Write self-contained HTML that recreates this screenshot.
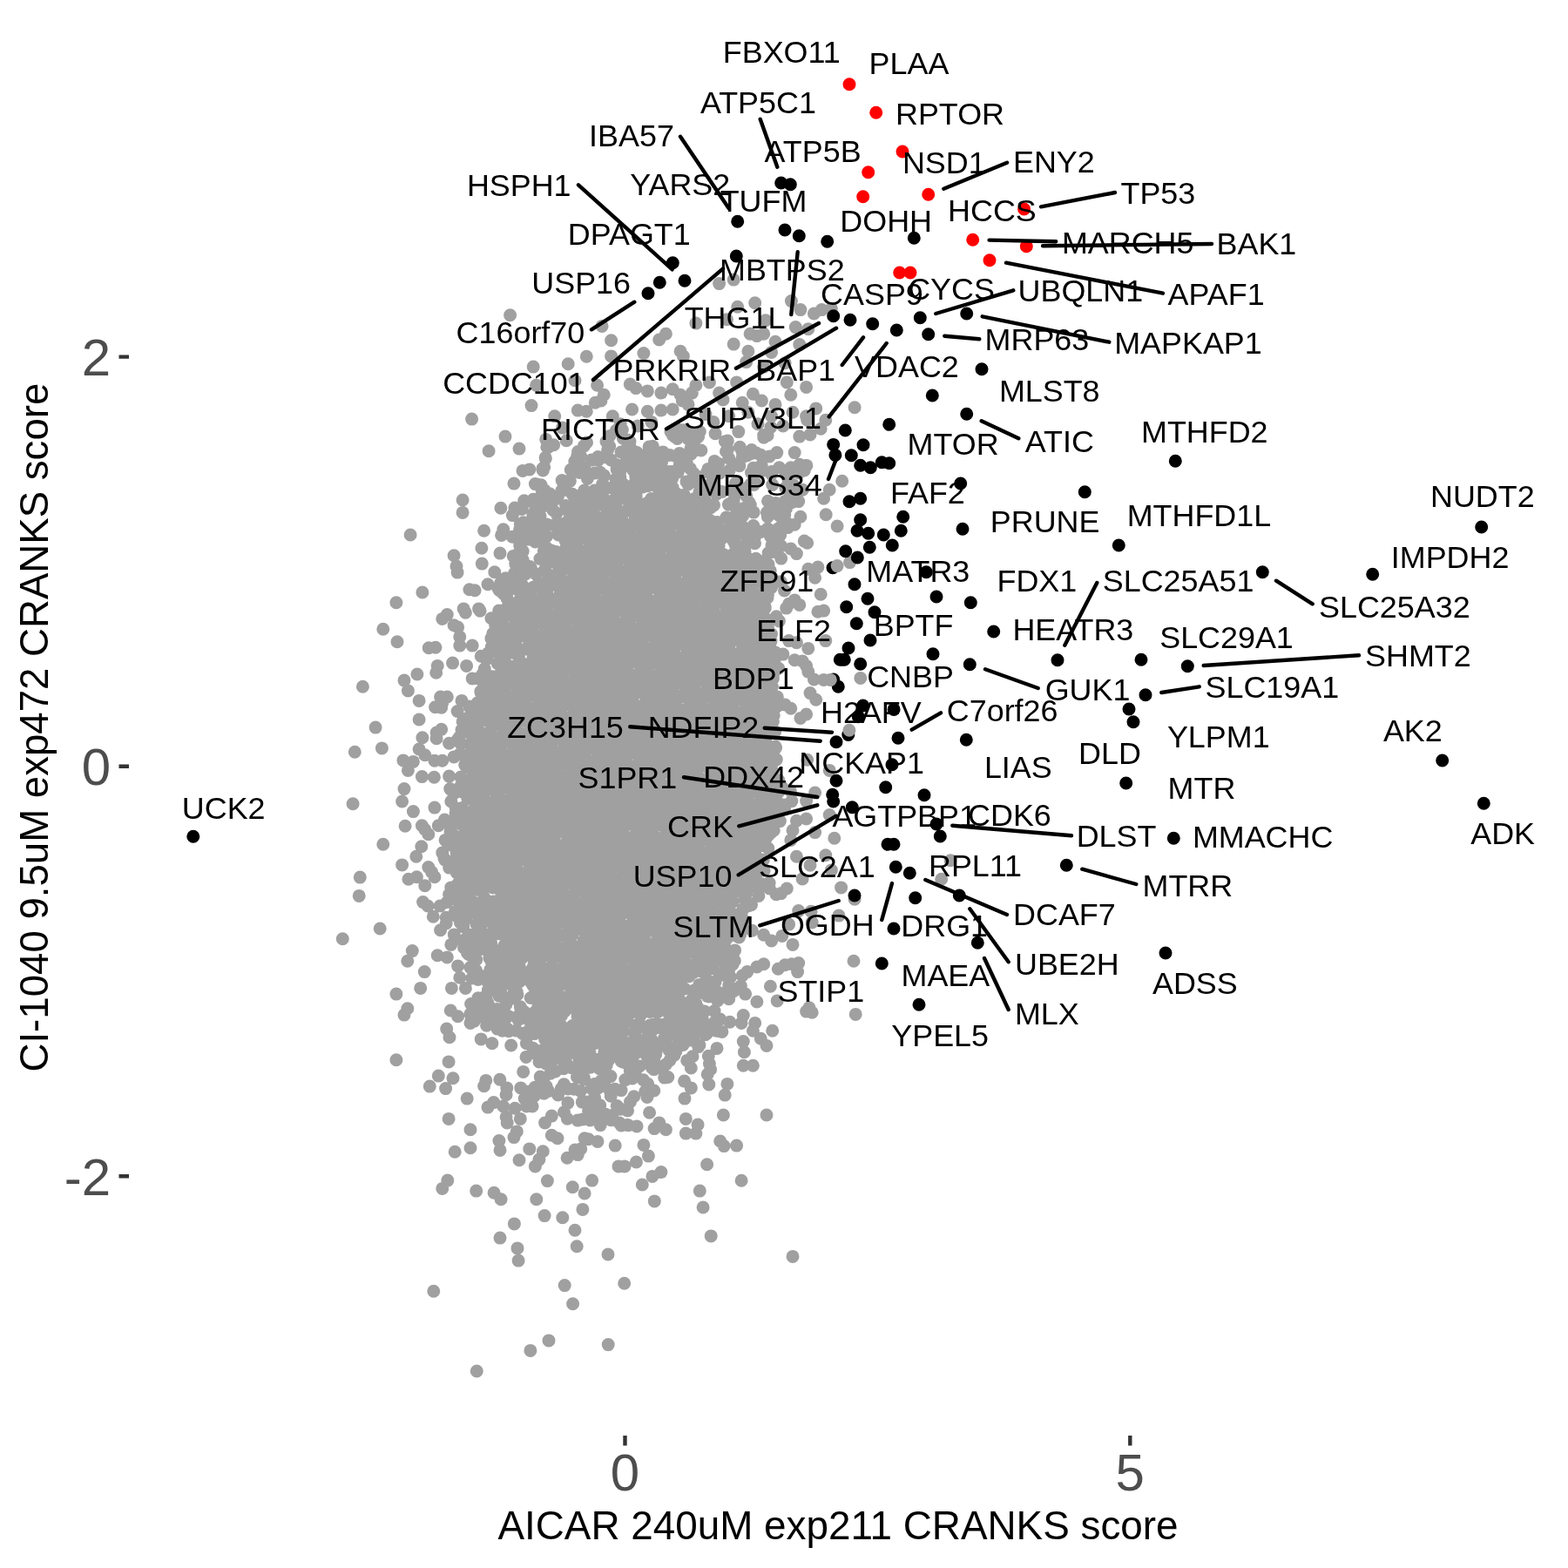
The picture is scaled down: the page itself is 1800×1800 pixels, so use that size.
<!DOCTYPE html>
<html lang="en"><head><meta charset="utf-8"><title>AICAR vs CI-1040 CRANKS score</title>
<style>
html,body{margin:0;padding:0;background:#fff;}
body{width:1800px;height:1800px;overflow:hidden;}
svg{display:block;}
text{font-family:"Liberation Sans",Arial,Helvetica,sans-serif;}
.l{font-size:35.9px;fill:#000;}
.a{font-size:60.0px;fill:#4D4D4D;}
.t{font-size:45.83px;fill:#000;}
</style></head><body>
<svg xmlns="http://www.w3.org/2000/svg" width="1800" height="1800" viewBox="0 0 1800 1800">
<rect width="1800" height="1800" fill="#fff"/>
<path fill="none" stroke="#A0A0A0" stroke-width="15" stroke-linecap="round" d="M541.6 481.1h0M580 501.1h0M561.1 517.8h0M596 515.1h0M600 540.4h0M607.8 538.9h0M590 555.1h0M614.4 555.6h0M621.1 556.7h0M627.8 513.3h0M623.3 540h0M531.1 574h0M531.1 588.4h0M574.9 583.3h0M591.1 585.6h0M598.9 584.4h0M612.2 573.3h0M622.2 573.3h0M611.8 592.7h0M471.1 614h0M555.6 609.3h0M577.8 607.8h0M575.6 614.4h0M552.9 629.3h0M574 635.1h0M521.1 637.8h0M524 650h0M525.1 657.1h0M553.3 647.1h0M567.8 656.7h0M560 670.7h0M538.9 676.7h0M545.1 677.8h0M573.3 677.8h0M484.9 680h0M454.9 691.8h0M532.2 698.9h0M534.4 703.3h0M549.6 698.9h0M513.3 705.6h0M507.8 710.4h0M521.1 717.8h0M525.6 720h0M439.8 722.2h0M456 736.7h0M527.8 731.1h0M527.8 741.1h0M542.2 741.1h0M492.2 743.8h0M500 743.3h0M552.2 753.3h0M519.6 761.1h0M535.6 764.4h0M502.2 764.4h0M500.7 772.2h0M478.9 774h0M542.2 778.9h0M464 781.1h0M468.4 792.9h0M416.4 788.2h0M481.1 804.4h0M505.6 800h0M513.3 800h0M507.8 806.7h0M499.6 811.8h0M506.7 812.2h0M530 804.4h0M538.9 811.1h0M552.2 795.6h0M481.1 826h0M431.1 835.1h0M531.1 828.2h0M530 837.8h0M506.7 837.3h0M501.1 841.1h0M501.1 847.8h0M484.9 846.7h0M515.6 853.3h0M525.6 848.9h0M438.4 858.9h0M407.3 863.3h0M481.1 860h0M487.8 866.7h0M462.9 872.9h0M474.4 874.4h0M498.9 873.3h0M507.8 873.3h0M521.1 868.9h0M468.4 884.4h0M484.4 891.6h0M498.4 892.2h0M515.6 891.1h0M464 905.6h0M405.1 922.7h0M461.6 920h0M474.4 931.6h0M498.9 927.1h0M516.7 905.6h0M525.6 907.8h0M517.8 920h0M523.3 927.8h0M465.1 948.2h0M484.4 947.8h0M487.8 952.2h0M491.8 957.8h0M503.3 947.8h0M510.4 941.1h0M531.1 943.3h0M439.8 969.3h0M483.8 971.8h0M477.8 983.3h0M511.1 964.4h0M517.8 962.2h0M514.4 970h0M507.8 978.9h0M510 985.6h0M461.6 992.9h0M491.8 995.6h0M495.6 1001.1h0M498.9 1006.7h0M413.3 1007.1h0M468.9 1009.3h0M478.4 1006.7h0M487.8 1016.7h0M412.2 1028.4h0M517.8 1018.9h0M515.6 1026.7h0M485.6 1035.6h0M491.1 1040h0M505.1 1040h0M513.3 1035.6h0M522.2 1047.1h0M497.3 1052.2h0M512.2 1053.3h0M512.2 1060h0M505.6 1067.8h0M436.2 1066h0M393.3 1077.8h0M523.3 1077.8h0M517.8 1084.4h0M538.9 1073.3h0M553.3 1072.2h0M473.3 1091.6h0M467.8 1103.3h0M502.2 1096.7h0M513.3 1098.9h0M525.6 1108.9h0M487.3 1115.6h0M527.8 1122.2h0M482.7 1134.4h0M518.4 1134.4h0M534.4 1134.4h0M454.9 1141.1h0M467.8 1157.8h0M464 1165.1h0M517.3 1160h0M525.6 1166.7h0M541.1 1167.8h0M550 1166.7h0M548.9 1151.1h0M540 1174.4h0M512.7 1181.1h0M516 1190.7h0M454.9 1216.7h0M515.1 1218.9h0M503.3 1235.1h0M520 1237.8h0M493.3 1247.1h0M511.6 1249.6h0M536.2 1261.1h0M515.1 1284.4h0M522.2 1322.2h0M513.8 1355.1h0M507.8 1364.4h0M497.8 1482.2h0M630 1538.9h0M608.9 1550.4h0M698.2 1543.6h0M547.3 1574h0M926.7 872.2h0M952.2 884.4h0M935.6 910h0M925.6 919.6h0M908.9 919.6h0M952.2 935.6h0M925.6 940h0M914.4 942.2h0M957.8 962.2h0M935.6 955.6h0M910 953.3h0M907.8 964.4h0M947.8 981.8h0M914.4 983.3h0M930 993.3h0M954.4 998.9h0M921.1 1008.9h0M1091.1 987.8h0M1080.7 1009.3h0M965.6 1018.9h0M981.1 1032.2h0M903.3 1020h0M896.7 1025.6h0M883.3 1020h0M891.1 1026.7h0M916.7 1045.6h0M931.1 1046.2h0M962.9 1051.1h0M905.6 1061.1h0M932.2 1058.9h0M876.7 1073.3h0M885.6 1080h0M897.8 1074.4h0M910 1084.4h0M980 1103.3h0M916.7 1105.6h0M908.9 1106.7h0M901.1 1107.8h0M893.3 1112.2h0M876.7 1106.7h0M868.9 1110h0M857.8 1115.6h0M852.2 1120h0M915.6 1115.6h0M884.4 1132.2h0M855.6 1141.1h0M836.7 1131.1h0M842.2 1137.8h0M868.9 1150h0M892.2 1148.9h0M836.7 1146.7h0M925.6 1161.1h0M932.2 1162.2h0M928.9 1156.7h0M982.2 1164.4h0M853.3 1165.6h0M826.7 1170h0M981.1 467.8h0M926.7 482.2h0M942.2 492.2h0M876.7 499.6h0M917.8 501.1h0M930 498.9h0M873.3 522.2h0M891.8 519.6h0M912.2 519.6h0M907.8 536.7h0M917.8 533.3h0M923.3 540h0M885.6 544.4h0M903.3 544.4h0M966.7 552.2h0M952.2 562.2h0M945.6 572.2h0M901.1 575.6h0M908.9 576.7h0M916.7 575.6h0M903.3 581.1h0M948.2 590.7h0M918.9 593.3h0M912.2 602.2h0M904.4 605.6h0M961.1 604h0M923.3 621.1h0M926.7 623.3h0M896.7 626.7h0M907.8 630h0M914.4 635.6h0M896.7 641.1h0M975.6 645.6h0M927.8 653.3h0M938.9 651.1h0M935.6 663.3h0M942.2 682.2h0M912.2 688.9h0M917.8 694.4h0M905.6 693.3h0M938.9 702.2h0M945.6 701.1h0M947.8 735.6h0M927.8 744.4h0M914.4 737.8h0M905.6 735.6h0M890 748.9h0M898.9 751.1h0M912.2 757.8h0M921.1 758.9h0M925.6 764.4h0M927.8 771.1h0M934.4 780h0M930 795.6h0M936.7 803.3h0M892.2 806.7h0M901.1 808.9h0M907.8 813.3h0M925.6 820h0M918.9 824.4h0M585.6 361.8h0M691.1 374.4h0M701.6 390.7h0M825.6 325.6h0M842.2 321.1h0M846.7 352.2h0M866.7 347.8h0M908.4 345.6h0M918.9 355.6h0M934.4 360h0M943.3 355.6h0M954.4 354.4h0M798.9 371.1h0M834.4 366.7h0M878.9 367.8h0M913.3 375.6h0M927.8 377.8h0M756.7 390h0M764.4 383.3h0M861.1 383.3h0M868.9 385.6h0M876.7 383.3h0M842.2 395.1h0M858.9 403.3h0M890 392.2h0M885.6 404.4h0M917.8 395.6h0M673.3 409.3h0M701.6 408.9h0M738.9 405.6h0M781.1 403.3h0M784.4 408.9h0M856.7 415.6h0M612.2 421.1h0M652.2 417.8h0M901.1 416.7h0M876.7 421.1h0M615.6 442.2h0M660 436.7h0M685.6 442.2h0M723.3 441.1h0M730 445.6h0M743.3 448.9h0M758.9 451.1h0M772.2 446.7h0M781.1 453.3h0M798.9 442.2h0M814.4 438.9h0M794.4 451.1h0M825.6 451.1h0M845.6 438.9h0M864.4 452.2h0M903.3 438.9h0M907.8 453.3h0M925.6 444.4h0M693.3 453.3h0M610 465.6h0M683.3 462.2h0M690 460h0M663.3 471.1h0M673.3 472.2h0M725.6 470h0M743.3 472.2h0M758.9 471.1h0M772.2 470h0M783.3 460h0M790 464.4h0M830 458.9h0M712.2 486.7h0M626.7 504.4h0M770 495.6h0M778.9 493.3h0M792.2 497.8h0M803.3 495.6h0M821.1 497.8h0M847.8 495.6h0M834.4 507.8h0M636.7 477.8h0M645.6 491.1h0M703.3 477.8h0M714.4 493.3h0M732.2 488.9h0M747.8 484.4h0M810 475.6h0M818.9 484.4h0M836.7 477.8h0M858.9 473.3h0M870 486.7h0M885.6 477.8h0M898.9 488.9h0M910 473.3h0M925.6 477.8h0M936.7 468.9h0M947.8 482.2h0M890 464.4h0M874.4 460h0M852.2 462.2h0M544.4 1172.2h0M576.7 1183.3h0M571.1 1181.1h0M837.8 1173.3h0M851.1 1174.4h0M866.7 1174.4h0M864.4 1183.3h0M822.2 1183.3h0M828.9 1184.4h0M886.7 1183.3h0M552.2 1192.9h0M564.9 1197.8h0M586.7 1200h0M604.4 1197.8h0M853.3 1195.6h0M873.3 1192.2h0M880 1200.4h0M854.4 1207.8h0M813.3 1212.2h0M600.7 1230.4h0M793.3 1226h0M814.4 1221.1h0M815.6 1227.8h0M812.2 1233.3h0M853.3 1223.3h0M864.4 1223.3h0M557.8 1240.4h0M555.6 1246.7h0M573.8 1239.3h0M581.8 1248.9h0M581.1 1256.7h0M597.8 1248.9h0M606.7 1253.3h0M602.2 1261.1h0M560 1271.1h0M566.7 1265.6h0M577.8 1270h0M591.1 1272.2h0M604.4 1270h0M611.1 1270h0M581.1 1282.2h0M582.2 1288.9h0M597.3 1284.4h0M625.6 1288.9h0M633.3 1281.1h0M540 1296.7h0M593.3 1298.9h0M590 1305.6h0M633.3 1303.3h0M640 1306.7h0M785.6 1241.1h0M793.3 1248.9h0M786 1261.1h0M813.8 1244.9h0M834.9 1244.4h0M832.2 1257.1h0M745.6 1277.3h0M787.3 1284.4h0M801.1 1291.1h0M787.3 1301.1h0M798.9 1301.1h0M830.4 1280h0M880 1280h0M751.1 1295.6h0M756.7 1288.9h0M764.4 1296.7h0M738.9 1314.4h0M744.4 1327.1h0M826.7 1310h0M831.1 1315.6h0M845.6 1315.1h0M572.9 1309.6h0M574 1320.4h0M540 1317.8h0M607.8 1318.9h0M623.3 1321.8h0M618.9 1331.1h0M614.4 1338.9h0M596 1331.8h0M651.1 1329.3h0M660 1320h0M666.7 1318.9h0M663.3 1325.6h0M671.1 1306.7h0M675.6 1307.8h0M686 1310.4h0M706.2 1315.1h0M710 1338.9h0M717.1 1338.9h0M730.4 1334h0M811.6 1336.7h0M758.9 1345.6h0M748.9 1350.4h0M737.3 1360h0M628.4 1355.6h0M657.3 1362.7h0M679.6 1355.1h0M671.1 1370h0M546.7 1367.1h0M567.1 1369.3h0M575.1 1376.7h0M615.8 1376.7h0M751.3 1378.9h0M803.3 1367.1h0M851.1 1355.3h0M668.9 1388.4h0M625.1 1395.6h0M645.8 1397.8h0M590.4 1404.9h0M660 1412.2h0M807.1 1386h0M574 1421.1h0M816.2 1418.9h0M594 1432.9h0M662.2 1430.7h0M595.1 1447.1h0M698 1440h0M910 1442.4h0M648.2 1475.6h0M716.7 1473.3h0M657.6 1496.7h0M702.9 697.6h0M800.3 889.1h0M652.5 997.2h0M695.3 611.4h0M656 908.7h0M714.2 856.4h0M658.1 1129.8h0M745 959.8h0M743.6 947.8h0M720.5 986.6h0M730.8 998h0M643 681.7h0M735.7 908.8h0M857.6 769.3h0M674 800.5h0M754.7 979.6h0M886.5 933.8h0M698.7 751.9h0M750.6 980.3h0M819.9 889.5h0M651.7 963.6h0M671.6 869.8h0M842.3 847.9h0M886.2 952.6h0M692.2 900.6h0M632.6 938.1h0M759 678.3h0M543.3 847.6h0M642.3 814.5h0M877.4 681.2h0M843.6 1090.9h0M623.7 1015.2h0M599.7 717.7h0M792 961.9h0M739.4 945.6h0M704.5 750.8h0M762.6 997.1h0M741.6 847.6h0M716.3 1021.4h0M722.1 891.1h0M720.2 815.3h0M638.1 912.4h0M729.9 657h0M826.8 817.9h0M710.4 658.6h0M640.8 1072.1h0M783.8 730.1h0M652 892.4h0M734.3 877.6h0M637.6 958.1h0M661.6 854.6h0M711.2 785.8h0M863.2 859.8h0M733.2 723.5h0M762.5 877.9h0M701.9 882.9h0M786.7 702.4h0M858.4 754.4h0M752.1 946.4h0M637.7 934.7h0M646.6 924.1h0M600.7 599.7h0M653 851.5h0M742.1 912.4h0M778.3 931.2h0M712.6 842.6h0M686.5 942.9h0M805.7 1000h0M798.2 662.3h0M863.3 937h0M712.8 921.7h0M718.9 976.1h0M690.2 1020.6h0M725 1206.8h0M641.2 650h0M766.5 854.1h0M808.4 1057.5h0M764.5 909.4h0M733.1 783.7h0M792.2 980.5h0M715.9 827.3h0M621.7 890.4h0M670.6 903.4h0M624.2 1126.9h0M779.9 755.7h0M687.3 1064.4h0M717.1 838.3h0M597.4 1084.2h0M765.9 671.9h0M906.8 566.9h0M660.8 849.2h0M717.8 1043.3h0M555.3 916.5h0M840.4 724h0M782.9 1059.9h0M801.1 1025.4h0M683.9 881.7h0M661.4 826.3h0M641.9 1035.6h0M611.3 856.8h0M681.9 822.6h0M721.2 1021.9h0M738.4 780.2h0M634.5 1064.2h0M810.3 894.5h0M672.3 841.3h0M786.1 815h0M720.3 682.8h0M686.8 1216.3h0M773.6 892.4h0M671.6 1145.2h0M712.8 853.3h0M578.2 1030h0M784.9 1151.7h0M627.9 718h0M597.4 1058.7h0M853.1 583.8h0M561 920.9h0M541.9 877.1h0M654.7 900.9h0M828.7 841h0M642.2 953.2h0M824.5 876.7h0M814.5 894.2h0M749.5 806.5h0M739 936.5h0M811.1 910.1h0M554.6 893.4h0M632.8 873h0M739.7 1072.8h0M568.3 919.1h0M695.2 905.6h0M772.6 834.9h0M624.1 1062h0M609.9 896.4h0M793.3 772.8h0M826 970.9h0M671.2 955.6h0M690.8 872.1h0M778.9 1056.4h0M696.9 792.9h0M717.9 921h0M669.4 805.4h0M652.2 1108h0M737.7 1055.1h0M608.2 838.9h0M548 881.2h0M842.5 814.5h0M622.5 998.8h0M650.8 755.7h0M846.9 960.9h0M752.6 915.1h0M767.9 1051.1h0M759.2 1128.1h0M747.7 816.3h0M825.7 847.6h0M699.8 583.6h0M820.4 764.9h0M713.3 655.5h0M870.1 883.5h0M745.9 692.3h0M765.2 841.5h0M822.6 999.3h0M641.5 1015.5h0M697.4 873.4h0M575.8 1028.5h0M630.5 645.4h0M763.7 587.5h0M640 976.5h0M622.7 909.8h0M859.8 793.8h0M745.4 968.9h0M794 1025.6h0M712.2 1013.8h0M753.9 844.6h0M816.1 966.4h0M636.1 1094.3h0M734.4 938.4h0M778.3 1016.8h0M735.2 1146.6h0M707.1 753.4h0M675.1 765.7h0M614.7 1103.1h0M657.9 928h0M689.9 1058.1h0M749.7 860.3h0M785.8 616.4h0M743.4 905.8h0M838.9 786h0M878.4 765.2h0M792.6 921.7h0M770.6 779.6h0M777.1 637h0M711.2 761.8h0M857.4 523h0M738.1 819h0M791.7 867.5h0M783.1 913.6h0M678.6 647.5h0M768.9 1033.9h0M741.3 805.8h0M831.2 875.9h0M747.1 789.7h0M721.2 1000.6h0M809 1057.6h0M747.3 1087.7h0M763.4 872h0M586 764.9h0M699.5 616.7h0M636.3 964.7h0M527.8 865.7h0M788.3 872.8h0M605.3 888.5h0M709.1 692.1h0M579 671.5h0M806.2 963.9h0M815.5 1008.9h0M858.4 879.1h0M808.9 762.7h0M752.5 869.1h0M654 704.8h0M728.1 1036.6h0M675.2 752.9h0M806.5 699.6h0M664.7 1100.6h0M613.8 900.4h0M741.8 968.8h0M802.9 610.4h0M709.8 678.9h0M585.4 1039.2h0M754.8 862.2h0M547.9 965.6h0M766.4 1014.4h0M764.2 986.7h0M768.1 908.9h0M596.5 1011.9h0M587.2 904.2h0M695.4 709.4h0M625.2 810h0M806.1 950.1h0M836.5 704.5h0M864.6 816.6h0M566.5 939.1h0M580.6 918.9h0M848.8 534.8h0M631.9 1039.8h0M780.4 989.9h0M802.7 874.1h0M798.8 881.1h0M650.4 896.8h0M764.4 859.4h0M674.9 832.2h0M646.1 861.1h0M792.1 843.1h0M811.7 1030.7h0M707.9 912.5h0M795.4 905.2h0M774.4 950.9h0M792.5 899.5h0M624.7 840h0M632.3 895.8h0M571.3 761.8h0M727.9 960.2h0M721.9 775.1h0M658.2 933.2h0M754.3 928.7h0M818.9 855.5h0M792.3 818h0M635.4 975.4h0M654.7 1028.8h0M684.6 996.1h0M780.4 886.8h0M607.6 786.2h0M822.4 883.9h0M744.6 950.1h0M663.2 1286.1h0M679.4 916.7h0M678.3 1106.5h0M681.2 754.1h0M701.9 1038.3h0M737.7 978.6h0M716.4 693.7h0M758.4 1052.5h0M824.4 909.1h0M739 723.8h0M674.8 883.8h0M657.2 1177.6h0M682.1 984.2h0M622.5 1157h0M790.4 664.3h0M711.8 848h0M763.7 936.4h0M739.1 865.7h0M659.9 1034.4h0M787.9 1051h0M731.7 810.4h0M641.7 1183.2h0M731.9 1082.8h0M688 953.5h0M581.9 969h0M714.4 815.8h0M785.1 928.8h0M675 732.8h0M717.5 1043.1h0M695.1 796.2h0M860.2 667.9h0M837.6 766.2h0M812.1 621.6h0M698.3 912.8h0M769.6 834.9h0M764.5 914.6h0M832.1 802.7h0M610.5 1174.5h0M709.4 910.9h0M636.8 1056.1h0M601.2 1017.7h0M821.1 1033.9h0M640.2 886h0M608.6 688.5h0M769.4 822.6h0M652.3 668.6h0M694.3 987.6h0M847.6 884h0M770.3 1082.1h0M628.9 887.9h0M561.9 1080.6h0M753.3 991.6h0M592.1 919h0M836.5 1115.2h0M789 743.1h0M658.5 799h0M848.1 817.8h0M579.6 797.5h0M808 781.6h0M728.1 726.5h0M650.7 843.7h0M827.4 868.8h0M715.5 951h0M696.7 1065.6h0M623.2 1166.4h0M767.2 923.9h0M819.5 992.3h0M718.6 715.2h0M734.2 542.3h0M794.8 931.6h0M665.2 953.5h0M711.2 1213.1h0M766 989.2h0M692.9 1121.4h0M643.9 1001.3h0M793.8 996.8h0M713.7 815.5h0M724.5 1131.5h0M619.8 1136.6h0M784.5 958.2h0M745.4 775h0M647.5 875.1h0M609 744.8h0M692.6 987.5h0M703.5 748h0M713.7 862.3h0M651.3 1284.3h0M783.8 1083.6h0M797.7 973h0M761.5 720.7h0M589.5 868h0M760.3 643.1h0M762.6 846.3h0M770.7 815.1h0M556.5 971.1h0M862.5 542.6h0M705 992.6h0M658.5 766h0M752.4 859h0M796.7 1029.9h0M626.9 785.5h0M711.9 777.9h0M773 616.6h0M663.9 832.8h0M796.2 949.3h0M776.7 1040.9h0M771.2 1172.1h0M644 923.8h0M777.4 998h0M883.8 741.8h0M623.2 886.1h0M750.3 944.9h0M740.5 1049.5h0M857.4 720.3h0M660.1 749.1h0M556.7 892.8h0M710.1 908.3h0M751.4 786.4h0M762.5 626h0M798.9 844.2h0M597.4 1169.2h0M679 581.7h0M744.2 1059.8h0M621 891.3h0M714.7 1085.2h0M733.2 598.6h0M684 884.4h0M746.1 848h0M824.8 761.7h0M580.1 1001.5h0M776 997.7h0M725.8 932.2h0M756.8 996.3h0M693.8 759.2h0M679.1 797.3h0M758.8 915.2h0M578.2 808.9h0M860.2 690.7h0M578.4 1123.8h0M751.5 1036.2h0M703.9 900h0M694.1 702.2h0M630.7 1119.6h0M639.1 999.7h0M744 1000.6h0M819.8 896.4h0M726.8 822.2h0M779 717h0M646.5 903.4h0M684.9 777.2h0M692.8 884.5h0M566.3 790.9h0M673.7 1185h0M780.7 875.8h0M648.5 1032.4h0M655.6 785.8h0M604.2 879.2h0M630.8 862.3h0M713.5 724.1h0M835.4 879.7h0M757.9 834h0M727 697.8h0M666 806h0M728.4 838.5h0M685.8 908.8h0M701.6 592.3h0M715.3 849.3h0M547.6 900.2h0M714.2 955.6h0M651.2 974.3h0M831.2 988.7h0M753.8 897.6h0M818.3 781.1h0M745.8 869.8h0M630.7 867h0M688 825h0M744 756.4h0M679.1 836.9h0M815.6 681.3h0M713.2 724.5h0M793.5 932.4h0M793 602h0M648.3 988.4h0M673 1067.5h0M684.1 920.6h0M673 782.2h0M622.2 1184.9h0M556.5 1038.9h0M676.1 1026.1h0M639.1 761.1h0M823.5 562.8h0M662.6 955.9h0M586.2 1062.9h0M740.8 723h0M782.8 977.4h0M757.4 723.4h0M583.6 765.6h0M816.3 1108.6h0M585.4 1002.3h0M747.7 1024.9h0M614.8 811.8h0M747.2 1103.1h0M712.6 1147.8h0M711.7 966.6h0M808.4 1014.3h0M712.1 883.9h0M799 795.8h0M728.5 913h0M744.2 955.4h0M708.9 796.3h0M627.9 978.6h0M660.2 967.8h0M756.9 788h0M768.6 794.1h0M691.6 789.4h0M645.4 1006.6h0M815.6 926.7h0M777.3 1029.2h0M646.7 928.6h0M789 999.1h0M555.3 1047.1h0M704.1 828.7h0M782.8 834.9h0M760.4 751.7h0M663.7 857.3h0M679.6 981.8h0M820.7 694.6h0M841 962.1h0M768.1 847.8h0M615.7 936.1h0M749.5 784.2h0M703 805.1h0M790.5 702.1h0M668.1 851.4h0M682.5 881.7h0M740.8 971.9h0M885.8 890.1h0M747.8 879.7h0M792.2 1091h0M693 740.8h0M767.3 880.6h0M765.4 779.8h0M794 1148h0M722.5 1213.5h0M775.1 1183.6h0M730.7 917.2h0M722.2 878.2h0M765.9 825.3h0M842.3 860.9h0M837.8 651.8h0M679.1 766.5h0M749.9 791.5h0M799.7 750.9h0M746.6 887.3h0M717.3 740h0M677.3 979.6h0M739.2 887.3h0M653 878h0M624.6 727.9h0M710.6 675.9h0M790.1 905.3h0M784.9 844.3h0M772.8 1032.3h0M709.4 912.1h0M794.6 921.2h0M608 992.7h0M752.8 739h0M660.5 751.3h0M703.5 1110.4h0M663.3 1018h0M571.9 1097h0M723 506.8h0M662.3 822.5h0M771.4 954.1h0M822.1 788.3h0M797.8 860.1h0M836.5 783h0M691.3 1003.6h0M735.8 1112.1h0M699 1016.9h0M727.4 700h0M537.2 897.6h0M557.1 846.4h0M689.6 1005h0M648.4 823.4h0M791.5 903h0M723 929.7h0M707.3 716.8h0M670.8 897h0M577 1112.6h0M783.7 766.7h0M729.4 1026.6h0M686.2 826.3h0M682.9 1045.2h0M740.7 923.1h0M617.9 1146.4h0M803.7 923.5h0M743.9 834h0M726.4 960.7h0M655.7 910.7h0M732.9 1109.1h0M679.9 588.4h0M744.3 753.6h0M669.4 898.1h0M688.7 807.5h0M723 793.3h0M735.8 1117h0M574.6 669.2h0M824.1 889.6h0M591.3 843.2h0M597.5 781.1h0M718.9 926.7h0M773.5 840.8h0M644.5 794h0M662.6 989.4h0M598.1 986.5h0M755.1 1141h0M720.5 887.7h0M635.5 644.1h0M734.9 883.3h0M665.5 815.4h0M802.9 565h0M782.2 897.8h0M734.6 669.3h0M731.7 825.9h0M672.2 668.5h0M781 693.1h0M881.7 913.5h0M564.4 872.5h0M750.9 1127.4h0M758.3 767.1h0M798.9 711.8h0M765.8 742.9h0M705.3 916.1h0M600.4 1007.5h0M629.9 945.3h0M737.2 1015h0M747 1066.5h0M638.2 1084.7h0M731.5 960.5h0M770.8 879.8h0M727.6 752h0M762.8 809.1h0M652.2 1074.2h0M619.5 888.1h0M891 935.6h0M673.2 905.4h0M669.8 780.4h0M775.4 905.2h0M854.6 1024.4h0M674.8 1008.1h0M711.8 944.2h0M633.6 1144.4h0M803.8 917.7h0M771 898.7h0M851.8 954.9h0M792.6 736.3h0M798.3 999.8h0M867.5 903h0M838.1 890.7h0M648.8 809.3h0M682.5 1006.7h0M610.8 983.3h0M809.2 1115.9h0M649.9 1033.5h0M699.3 828.9h0M742 671.3h0M578.7 955.3h0M757.2 794.7h0M646.7 1115.8h0M768.5 986.4h0M626 1018.9h0M767.6 1059.5h0M563 1093.5h0M834.2 789.1h0M876.2 822.3h0M735.6 1025h0M730.1 570h0M686.6 768.5h0M681.4 815.5h0M833 793.9h0M762.3 854.3h0M776.5 846.2h0M713.1 1043.5h0M596.3 1096.6h0M687.2 1059.1h0M623.7 1123.4h0M727.1 1029.7h0M742.7 718.6h0M683.4 1040.5h0M797.9 993h0M764 905.7h0M727.5 845.5h0M729.6 1133h0M648.3 906.4h0M727.4 905.9h0M803.2 809.5h0M786.9 771.7h0M607 909.4h0M686 862.9h0M700.2 1001.8h0M688.3 764.3h0M652.8 674.2h0M691.9 765.8h0M680.7 778.5h0M795.5 635.2h0M833.3 922.3h0M621.1 619.4h0M747.7 823.7h0M638.3 790.1h0M604.6 932.8h0M662.9 932.1h0M666.1 717.7h0M689.5 603.4h0M777.1 1068.8h0M726.3 1007.9h0M576.7 984.9h0M707.4 1124.7h0M711.9 684h0M711.8 596h0M811.9 789.4h0M811.6 782.1h0M883.2 781.8h0M756 732.2h0M788.7 742.6h0M689.7 1056.7h0M769.3 1188.6h0M642.6 1023.7h0M667.2 698.7h0M882.2 791.7h0M650.2 792h0M801.7 501.1h0M597.7 1099.9h0M711.2 860.9h0M763.7 719.5h0M779.5 1005.1h0M583.5 1128.6h0M686.1 911.8h0M627.2 750.5h0M817.6 681.2h0M700 772.6h0M773.9 1086h0M749.1 890.2h0M670 953.6h0M596.6 841.2h0M856.2 807.7h0M733.7 958.5h0M710.8 742.7h0M784.2 647.2h0M645.4 779.4h0M676.5 1204.6h0M770.2 956.8h0M837.9 849.9h0M829.7 792.4h0M650.2 873.3h0M657.6 790.5h0M727.5 779.6h0M670.4 724.4h0M581.5 824.9h0M612.9 798.4h0M672.7 759.8h0M835.4 515.8h0M641.6 613.1h0M795 913.5h0M698.9 918.1h0M614 1074.4h0M768 858.6h0M677.6 949h0M632 811.1h0M712.5 572h0M831.9 846h0M849.5 841.4h0M858.9 654.5h0M698.8 756.8h0M666.5 1144.5h0M817.4 887.2h0M736.6 998h0M640.1 785.7h0M659.2 825.6h0M809.9 1002.9h0M761.3 971.5h0M748.3 744.5h0M844.1 752.1h0M557.3 919.2h0M701.4 980.8h0M702.5 560.1h0M645 1006.5h0M782.8 1098.3h0M550.1 1159h0M730.9 946.9h0M719.8 1028.2h0M745.5 1046.5h0M724.8 802.7h0M700.4 891.3h0M803.8 643.6h0M600.2 632.7h0M668.9 1285h0M730 755.6h0M741.6 922h0M688.1 933h0M643.3 776.4h0M669.9 990.5h0M680.4 808.4h0M688 945.6h0M629.9 663.6h0M659.6 1093h0M637.9 1162.4h0M690.5 759.6h0M626.8 839.3h0M796.2 982.8h0M709.1 902.7h0M607.3 885.3h0M790.8 931.2h0M577.3 1014.9h0M750.1 831.6h0M757.1 895.4h0M769.5 921.1h0M708.3 993.5h0M685.6 921.6h0M724.4 946.1h0M733.2 989.6h0M756.8 634.2h0M739.7 938.3h0M630.7 820.6h0M607.8 1010h0M627.8 866.4h0M675.3 780h0M687 710.4h0M831.5 1119.4h0M687.7 1007h0M833.9 665.6h0M689.8 1016.3h0M739.8 1034.6h0M804.8 994.5h0M688 950.4h0M746.4 757.6h0M678.9 698.6h0M745.6 799.8h0M730.2 861.5h0M642.3 868.2h0M665.5 837.8h0M832.7 894.1h0M793.7 989h0M769.4 958.7h0M650 919h0M836.3 1024.6h0M810.4 952.4h0M851.2 747.3h0M752.6 808.5h0M746.2 864h0M727.5 792.1h0M623.4 952.1h0M579.2 1061.2h0M623.5 1047.4h0M808.1 1140.1h0M653.4 982.5h0M643.6 889.4h0M716.2 879.1h0M616.3 799.4h0M583.8 1021.6h0M780.1 682.5h0M696 1196.3h0M717.1 618.5h0M565.3 971.1h0M709.2 918.8h0M666.9 762.5h0M698.5 925.4h0M741 1063.2h0M796.9 1062.9h0M651.7 632.9h0M697.6 804.9h0M847.2 671.2h0M796.4 649.6h0M802.6 661.3h0M790.8 496.2h0M783.7 639.7h0M807.7 633.7h0M651 947.2h0M692 742.2h0M749.6 857.7h0M917.1 543h0M727.1 627.7h0M848.6 961.4h0M791.4 954.5h0M686.4 697.9h0M795.1 1028.5h0M712.6 879h0M762.1 938.8h0M761.3 755.3h0M761.1 813.9h0M657.8 999.2h0M804 633.3h0M550.9 939.4h0M558.7 858.8h0M596 776.8h0M787.9 820.4h0M750.1 898h0M681.2 843.1h0M624.4 899.8h0M798.9 1152h0M682.8 682.9h0M737.2 744.8h0M687.5 995.2h0M715.5 927.9h0M658 845.5h0M816.1 766.4h0M762.7 1237.1h0M707.2 881.9h0M585.3 842h0M816 947.3h0M689 953.6h0M652.2 974.5h0M745.1 727.5h0M663.1 1123.8h0M648.9 610.4h0M658 783h0M836.9 909.6h0M761.3 947.6h0M630.6 1163.4h0M836.4 856.7h0M695.2 603.9h0M678.1 909.4h0M665.1 1160.3h0M655.6 1062.6h0M810.5 894.7h0M641.2 1097.7h0M799.3 762h0M747.8 1198.6h0M683.1 906.4h0M657.4 977.8h0M635.4 963.2h0M816.4 598.2h0M822.4 880.7h0M570.2 864h0M638.7 604.6h0M721.7 911.8h0M669.8 959.4h0M749.2 888h0M669.3 605h0M663.6 1142h0M709.6 844.1h0M742.9 764.6h0M697.3 1051.1h0M784 1045.4h0M811.9 693h0M718.8 1075.3h0M823.3 808.7h0M725.9 724.9h0M597.3 1006.5h0M725.9 1094.5h0M742.9 978.9h0M708.4 635.3h0M752.6 1055.7h0M713 798.8h0M705.3 788.3h0M781 783.7h0M869.2 903.2h0M722.9 719.9h0M695.9 773.8h0M814.6 873.8h0M718.2 713h0M635.4 765.8h0M850.7 729.7h0M804.9 1002.5h0M721.9 861.8h0M861 922.7h0M756.9 944.4h0M788.2 702.3h0M611 921h0M680.5 730.1h0M762.3 965.3h0M653.4 891.2h0M612 849.7h0M760.5 1062.8h0M599.5 761.4h0M755.4 784.4h0M659 859.6h0M750.8 647.6h0M700.6 1012.6h0M658.5 1006.7h0M676.5 1053.1h0M628.7 929.9h0M851.6 820.1h0M572.7 900.9h0M541.1 980.3h0M678.5 971.2h0M744.2 708.4h0M697.4 850.8h0M746.7 895h0M682.6 669.3h0M803.2 683.9h0M607.5 1090.9h0M672.8 900.9h0M634.2 948.4h0M815.7 680.5h0M693.1 653.6h0M655.9 879.2h0M774.1 942.9h0M824.4 914.1h0M753.4 1017.3h0M684.1 779.8h0M721.4 1291.8h0M598.9 916.9h0M746 556.1h0M604.3 1030.4h0M655.9 1135h0M674.5 824.6h0M788.4 975.1h0M709.3 884.9h0M627.4 883.8h0M692.9 820.3h0M585.9 1090.4h0M710.5 851.5h0M806.5 747h0M662.9 964.7h0M768.3 557.3h0M783.1 922.3h0M773.2 1079.5h0M550.9 848.6h0M721.2 849.6h0M742.9 934.5h0M630.4 1054.4h0M641.9 797.4h0M722.9 928.9h0M631.5 833.4h0M727.7 798.3h0M657 1073.3h0M742.5 528.2h0M681.9 1064.8h0M764.2 971.2h0M644.3 1042.8h0M760.6 749.8h0M697.1 948.8h0M805.5 726.7h0M735.7 768.3h0M542.6 911.6h0M667.7 765.6h0M566.5 801.7h0M590 1034.4h0M644.4 1058.1h0M651.3 835h0M814.3 701.7h0M632.4 938h0M631.9 924.9h0M904.9 549.9h0M796.2 901.7h0M542.4 1082.9h0M693.4 895.1h0M712.4 1039.3h0M572.1 789.5h0M735.7 790.7h0M700.7 741.6h0M628.9 841.1h0M555.6 998.6h0M755.7 1176.3h0M704.7 809.7h0M764.7 1221.6h0M673.3 801.4h0M861.4 702.7h0M718.2 807.6h0M814.3 628.2h0M773.5 633.1h0M713.9 771.9h0M693.5 580.4h0M690.6 1079.3h0M607.2 1123.5h0M653.6 1042.4h0M666.5 1042.7h0M750.4 1027h0M634.4 1101.4h0M729.8 1061.8h0M646 942.6h0M629.5 674.6h0M691.4 838.1h0M615.3 659.1h0M806.8 921.7h0M677.6 1026h0M745.1 1154.3h0M773.8 847.8h0M708.7 868.6h0M727.9 698h0M769.6 757.9h0M795.4 852.6h0M538.8 959.6h0M620.7 962.9h0M665.2 879.3h0M710.6 887.7h0M781.2 847.1h0M676.5 768.9h0M688.6 745.2h0M730.4 839.4h0M730.2 921.4h0M813.9 869.5h0M728 1119.3h0M654.9 862.4h0M677.6 958.2h0M773 1053.5h0M765.3 868h0M591 729.4h0M681.9 1033.5h0M662.1 1098h0M724 1008.3h0M676.1 843h0M776.2 598.4h0M786 857.8h0M609.7 986.5h0M666.9 863h0M775.3 868.1h0M633.8 847h0M584.9 780.6h0M591.2 1050.9h0M711.5 938.6h0M561 872.4h0M720.5 977h0M754.4 909.3h0M633.4 964.2h0M631.1 723.6h0M698.3 720.9h0M735.3 1070.8h0M747 667.6h0M739 847h0M668 1111.1h0M740.7 798.1h0M836.1 793h0M620.2 1236.1h0M820.3 842.4h0M632.3 954.2h0M620.4 927.6h0M841.1 933.4h0M719.2 1073.9h0M792.3 642.5h0M893.8 591.3h0M791.3 787.8h0M811 794.8h0M662.3 807.7h0M788.8 946.1h0M758.2 808.2h0M793.1 514.3h0M719 988.2h0M672 853.4h0M720.4 763h0M595.7 859h0M602.8 931.2h0M780.3 911.1h0M631.4 876.2h0M697.4 726.2h0M667 1169.2h0M843.5 827.7h0M788.6 748.7h0M697.8 1117.6h0M729.9 703.9h0M670.5 511.9h0M668.2 923.7h0M801.1 726.9h0M737.4 937.3h0M826.2 818.4h0M720.3 623.8h0M694.5 1171.5h0M715.1 933.5h0M661.9 700.1h0M850.3 918.6h0M633.2 810.5h0M704.3 941.6h0M871.7 937.2h0M703 1099.9h0M703.6 1158.5h0M729.1 1138.7h0M773.5 918.1h0M604.6 862.7h0M766 610.6h0M598.3 780.1h0M720.8 770.8h0M632 766.4h0M811.9 880.4h0M690.4 1043h0M811.8 757.1h0M711.9 1080.4h0M791.5 701.4h0M727.8 963.2h0M714.8 733.5h0M710.2 921.8h0M634.3 992.6h0M737.8 761.3h0M671 1070.3h0M537.6 897.3h0M728.2 675.8h0M547.3 887.5h0M776.1 1004.3h0M706.6 714.5h0M582 686.9h0M554.9 818.1h0M814.4 965.5h0M755.9 890.2h0M738.1 965.3h0M570.9 872.5h0M651.7 644.4h0M719.7 868.4h0M692.2 690.6h0M822.5 810.9h0M687.6 861.1h0M772.5 864.1h0M728.5 674.6h0M731.4 626.4h0M589.7 980.2h0M682.1 619.1h0M624.2 1031.9h0M759.3 776.5h0M637 818.1h0M767.9 696.9h0M840.1 658.7h0M800.3 502.5h0M708.5 834.9h0M567.2 1167.7h0M662.3 1002.7h0M694.5 832.5h0M639.5 753.6h0M764.3 980.2h0M671.4 795.3h0M658.5 820.1h0M797.4 778.5h0M827.1 908.2h0M622.1 914.1h0M770.5 760.5h0M750.6 1096.8h0M634.8 979.9h0M856.2 924.7h0M796.1 880.5h0M800.4 1168.4h0M703.8 1024.5h0M770.5 936.4h0M729 1079.3h0M662.1 1097.5h0M641 879.1h0M763.9 886.4h0M649.1 968.9h0M707.2 1078.2h0M674.5 849.6h0M689.6 1136.1h0M577.7 807.9h0M688.4 1101.1h0M744.1 890.2h0M800.6 1027.5h0M779.5 1096.6h0M708.6 851.6h0M789.8 878.3h0M594.7 841.7h0M595.6 1017.8h0M765 1071.5h0M758.8 926.6h0M612.3 1097.4h0M682.2 727.2h0M789.2 948.9h0M667.5 1086.2h0M796.1 811.7h0M858.5 726.3h0M694.8 808.8h0M767.8 1016h0M563.5 1170.3h0M643.1 737.9h0M624.8 1210h0M715.9 782.7h0M587 900.7h0M745.7 727.2h0M808.7 948.6h0M671.2 1070.2h0M689.9 853.6h0M800.4 892.2h0M597.3 1035.9h0M669.6 692.2h0M738.1 743h0M844.2 880.3h0M837.9 989.9h0M694 760.5h0M548.1 1050h0M615 1024.6h0M845.2 862.9h0M678.4 718.5h0M670.9 740.9h0M753.7 917.5h0M757 774.9h0M606.1 959.8h0M657 1013.2h0M685.1 899.5h0M572.9 1107.6h0M822.3 670.9h0M614 875.1h0M708.8 951.5h0M714.9 747.2h0M665.4 542.4h0M737.4 1045.5h0M732.2 667.6h0M713.2 1218.3h0M576.4 989.9h0M796.8 616.3h0M825 1005.8h0M849.5 705.9h0M576.6 982.3h0M702.7 713.4h0M744.2 605.4h0M577.1 845.2h0M572.9 872.8h0M788.1 826.3h0M872.5 667.9h0M725 998.4h0M627.7 602.1h0M630.1 705.1h0M650.4 842h0M708.3 923.3h0M733.1 868.3h0M676 748.1h0M711.1 989h0M666.7 743.6h0M752.4 707.4h0M679.1 710.9h0M613.1 732.9h0M648.9 719.8h0M751 970.9h0M549.2 885.8h0M868.1 828.9h0M652.8 1043.8h0M788.7 1217.4h0M574.6 985.7h0M639.6 782.4h0M665.1 878.2h0M619.3 918.3h0M826.9 927.7h0M643.5 684.1h0M695.5 798.5h0M849.3 873.8h0M767.4 552.2h0M713.5 900.4h0M571.3 985h0M637.9 660.3h0M672 1069.6h0M619.7 784.1h0M558.4 1074.7h0M633.8 668.3h0M657.2 806.8h0M601.9 817.7h0M797.5 1006.3h0M847.6 1067.8h0M879.5 816.4h0M820.3 905.9h0M745.9 988.4h0M626 742.1h0M723.1 891h0M654.9 1045.5h0M694.6 1174.3h0M739.5 742h0M848.4 766.6h0M644.2 1027.9h0M740.5 674.7h0M688.9 1028.8h0M865.6 681.2h0M705.2 930.7h0M680.6 900.9h0M859.8 830.9h0M583.5 802.4h0M577.6 842.7h0M610.4 953.1h0M667 1166.2h0M622.1 878.2h0M811.4 1064.4h0M800.7 846.7h0M831.3 832.6h0M663.6 713.2h0M650.6 936.3h0M675.8 921.6h0M851.3 837.9h0M613.3 823.9h0M665.2 631.4h0M813 840.1h0M724 977.6h0M737 824.6h0M712.8 988.2h0M709.3 971h0M752.2 760.7h0M728.7 722h0M646.3 992.2h0M767.6 793.5h0M591.5 1094.9h0M656.4 1014.7h0M614.7 875h0M657.7 1184.8h0M697 760h0M603 1002.2h0M666.6 893.8h0M655.8 733.4h0M776 725.8h0M692.2 1086.2h0M837.4 717.9h0M775.7 768h0M715.3 668.6h0M741.1 854.6h0M707.6 1172.2h0M688.6 889.2h0M746.7 959.8h0M733.3 653.9h0M711.7 1051.8h0M724.2 1151.2h0M615 798h0M644.9 1204.4h0M561.3 806.5h0M842.5 877.8h0M698.2 1038h0M691.4 1119.4h0M842.5 994.9h0M668.5 789.3h0M635.2 744.7h0M677.8 959.8h0M712.1 1007.4h0M712.9 737h0M706.7 1032.6h0M667.2 1007.8h0M812.1 960.4h0M688.5 1089.9h0M758.9 832.1h0M612.4 758.7h0M826.8 977.3h0M653.2 1149.1h0M647.1 1073.7h0M745 639.8h0M597.8 1017.8h0M797.6 771.3h0M804.6 1132.2h0M779.1 1040.9h0M795.9 836.6h0M601.2 913.6h0M778.4 779.7h0M717.4 742.2h0M742.2 680.6h0M815.9 1112.1h0M645.3 953.9h0M871.9 809.8h0M753 820.2h0M677.2 1057.9h0M700 500.5h0M688.2 1226.8h0M785.9 795.4h0M645.9 732h0M707.6 1106.6h0M679.2 1174.6h0M692.4 982.8h0M694.3 1070.8h0M774.1 1211.3h0M659.1 1053.5h0M824.9 762.9h0M657 909.8h0M787.3 935.3h0M695.6 788.2h0M712.5 761.4h0M690 968.7h0M764.8 1181.4h0M854.9 1032.3h0M779.1 727.9h0M825.7 1004.2h0M718.5 712.6h0M699.2 1027.2h0M882.8 743.6h0M616 1047.9h0M763.3 726.4h0M773.4 1156.3h0M575.5 905.4h0M617.1 869.6h0M805.3 961.6h0M812.6 1041.6h0M578.3 709.1h0M714.6 899.7h0M729.6 1176.9h0M558.3 757h0M699.7 512.3h0M722.3 1088.4h0M742.4 699.2h0M799 756.2h0M803.8 1109.8h0M774.3 634h0M776.9 1024.3h0M850.4 711.4h0M637 1087.7h0M766.7 957.7h0M663.1 721.3h0M658.9 948.6h0M595 827.9h0M885.1 735.8h0M748.1 882.6h0M542.1 936.6h0M614.2 1052.5h0M754 1005.1h0M697.1 996.7h0M764.6 1003.6h0M719.3 684.8h0M790 659.2h0M686.9 718.4h0M829.7 947h0M631 566.7h0M637.3 1130.7h0M730.5 775.2h0M728.4 533.1h0M619.3 754.1h0M787.9 963.4h0M755.9 1022.8h0M710.4 771.6h0M684.9 568.6h0M716.5 631.4h0M663.1 884.9h0M787.3 971.9h0M830 943.9h0M542.5 892.2h0M733.8 1174.7h0M813.7 798.5h0M673.2 981.4h0M750.9 718.1h0M533.4 1056.4h0M821.1 726.5h0M713.2 1101.5h0M692.1 965.1h0M615.8 813.2h0M868.5 755.8h0M781.5 835h0M689.6 853.3h0M609.1 837.3h0M697 951.2h0M524.4 1001.9h0M599.6 820.2h0M632.2 1006.9h0M709.4 819.6h0M675.4 853.2h0M664.4 708.4h0M782.9 626.9h0M674.6 1008.2h0M879.8 825h0M856.8 569.4h0M657.2 675.5h0M794.3 1057.1h0M684.4 603.3h0M647.4 1013.4h0M679.8 1023.1h0M805.9 608.6h0M764 778.6h0M860.9 521.2h0M694 1114.2h0M742.1 925.4h0M815.7 948.6h0M745 729.2h0M825.6 776h0M705.7 769.1h0M797.7 856.8h0M697.5 692.2h0M607.9 762.6h0M716.2 834.1h0M605.7 849.1h0M797.4 885.6h0M870.8 689.6h0M672.6 961.3h0M692.4 1111.4h0M704 832.3h0M630.1 1083.4h0M837 641.1h0M723.2 838h0M811.5 897.3h0M729.4 706.3h0M653.6 710.7h0M698.9 944.3h0M609.4 877.9h0M588.9 894.8h0M846.1 998.3h0M642.4 701.1h0M836.3 811.3h0M590.6 1054.1h0M783.6 865.1h0M609.1 731.9h0M768.1 766.8h0M767.7 781.4h0M676.6 1008.2h0M644.2 1215.6h0M713.8 1071.2h0M691.7 738.5h0M685.6 803.7h0M735.5 974.6h0M773.4 748h0M800 676.2h0M619.7 991h0M628 854.6h0M630.2 756.5h0M719.4 1113.6h0M573.3 852.7h0M619.3 1099.1h0M722.6 602.8h0M639.7 1014.4h0M779.3 1134.7h0M599.7 826.1h0M820.4 1054.9h0M785.6 1182.1h0M722 712.2h0M704.9 702.7h0M794 678.3h0M840.4 817.3h0M796.1 543.2h0M768.8 1088h0M671.9 938.9h0M678.6 664.4h0M827.1 669.5h0M621 713.7h0M664.4 651.3h0M673.6 708.3h0M711.2 1098.8h0M680 734.3h0M724.1 731.9h0M698.6 1141.5h0M650.6 1076.1h0M713.9 617.1h0M651.9 1266.1h0M565.8 1018.9h0M658.8 900.4h0M655.6 740.5h0M588.8 929.1h0M685.5 1125.1h0M683.6 994.3h0M869.2 923.7h0M853.6 960.4h0M683.1 979.7h0M598.7 1043.7h0M651.7 960h0M633 821.5h0M788.7 753.3h0M823.1 722.1h0M795.8 1061.7h0M778.3 646.5h0M779.7 800.7h0M780 673.1h0M664.2 975.6h0M686.3 1116.2h0M785.3 941.6h0M569.3 896.7h0M669.8 1080.3h0M731.2 519.6h0M783.5 943.4h0M728 1065.7h0M800.2 735h0M822.3 958.6h0M680.3 1114.5h0M819.2 911h0M647.5 1108.9h0M818.4 1044.1h0M627.8 812.9h0M802.7 1130.4h0M660.3 1138.1h0M784.4 897.9h0M633.9 852.4h0M632.7 1134.7h0M605 894.3h0M792 633.1h0M735.8 732.2h0M550.4 852.9h0M666 760h0M658 745.4h0M695.4 524.8h0M831 848.1h0M675.6 973.9h0M802.3 968.6h0M711.8 1175.7h0M598.6 961.7h0M799.9 632.5h0M605.5 776h0M589.9 929.2h0M850.1 874.1h0M680.9 1119.2h0M783.6 738h0M647.1 773.2h0M680.7 1049.5h0M691.7 727.1h0M571.4 917.8h0M787.6 781.8h0M776.2 571h0M741.3 928.4h0M855.8 736.5h0M550.2 884.5h0M901.8 560h0M682 1034.8h0M661.9 1049.6h0M629.6 687.9h0M674.4 815.1h0M768.5 1145.5h0M806.5 989.1h0M816.7 865.8h0M625.5 986.2h0M830 935.2h0M668.8 995.8h0M795.8 801.3h0M862.3 843.9h0M724.7 1049.9h0M703.9 838.9h0M864.2 833.4h0M617.3 1079h0M585.9 964.9h0M756.8 1120.6h0M784 799.9h0M726.1 534.3h0M844.5 554.5h0M770.3 739.9h0M763.8 558.2h0M718.2 747.2h0M634.2 1065h0M749.3 512.3h0M649 984.1h0M626 697.2h0M849.1 611.9h0M853.7 798h0M770 711.3h0M692.6 774.6h0M694.5 961.3h0M685 794.4h0M640.8 800h0M662.5 1236.5h0M715.7 1183.1h0M615.3 749.2h0M623.8 862.1h0M871.5 986.1h0M778.5 813.7h0M806.9 802.2h0M853.9 684.5h0M692 930.3h0M618.1 773.3h0M726.5 1147.2h0M736.5 676.4h0M783.1 982.2h0M679.5 1128.5h0M745.6 702.7h0M687.1 890.5h0M808.4 937.1h0M865.3 966.9h0M558.4 886.3h0M759 1043.1h0M771 739h0M731.8 978.8h0M643 661.2h0M600.2 891.5h0M745 1001.7h0M794.9 1168.4h0M762.7 960.2h0M613 926.5h0M757.5 882.7h0M690.5 1240.4h0M729.1 1105.8h0M646.7 1017.1h0M819.1 818.2h0M776.2 859.7h0M536.4 1024.1h0M712.1 1125.5h0M865.6 743.5h0M695.2 973.4h0M849 688.4h0M752.3 707.1h0M863.1 886.5h0M625.6 821.7h0M637.1 1131.7h0M631.6 1049.2h0M719.2 688.5h0M534 932.3h0M814.8 815h0M643.5 715.2h0M709.9 961.9h0M823.6 894.1h0M760.3 937.3h0M696.3 655.8h0M635 917.4h0M626 999.3h0M702.7 1094.1h0M780 1028.7h0M804 1175.6h0M794.8 814.9h0M689.2 846.5h0M801.4 826.6h0M785.1 1062.1h0M660.9 771.4h0M622.5 932.7h0M634.3 1033.1h0M630.4 1025.7h0M819.7 807.2h0M633 727.2h0M688.5 859.9h0M705.8 726.7h0M759.7 649h0M681.4 1077.2h0M676.7 744.9h0M790.4 802.3h0M727 635.3h0M610.8 836.1h0M808.6 824h0M874.7 772.6h0M565.1 781.7h0M618.9 1009.4h0M711.2 1090.8h0M745.4 688.9h0M659.8 593.4h0M570.7 708.3h0M776.7 1132.9h0M553.2 1088.6h0M774.3 587h0M690 574.8h0M590.2 946.7h0M715.1 1065.6h0M698.3 1061.1h0M832.2 1047.8h0M744.9 526.9h0M649.7 1087.6h0M609.3 832.9h0M724.3 1022.2h0M849.8 1067.1h0M721.9 893h0M734 651h0M660.7 911.4h0M598.2 897.8h0M616.8 831.6h0M643.9 979.6h0M704.2 813.5h0M735.1 837.3h0M692.9 667.5h0M593.4 821.2h0M686.8 1091.4h0M702 1049.4h0M620.5 747.8h0M547.6 832.2h0M800.4 1053.1h0M787.4 1082.5h0M618.5 1054h0M724.9 836.3h0M557.5 1157.4h0M867.4 878.3h0M842.5 846.4h0M692.8 864.6h0M689.1 1105.9h0M593.1 927.4h0M659.8 529.7h0M725.3 900.4h0M560.4 749.7h0M730.5 760.3h0M844.6 644.6h0M606.2 1038.9h0M655 652.8h0M720.1 966.9h0M734.1 1017.8h0M859.5 697.1h0M782.1 1010.1h0M729.9 551.6h0M603.3 908.6h0M873.3 725.3h0M608 736.8h0M868.1 519.9h0M599.6 846.9h0M726.7 663.3h0M611.3 963.1h0M793 681.4h0M732.3 558.6h0M705.5 1132.3h0M621 1100.4h0M589.2 638.4h0M633.9 826.4h0M748.6 955.9h0M670.3 878.9h0M711.4 1184h0M689.4 1143.3h0M777.3 718.2h0M836.9 923.4h0M647.8 800.9h0M587.9 1093.2h0M755.7 676h0M803.1 938.4h0M815.9 1075.2h0M738 1132.3h0M618.1 1075.8h0M682.5 885.3h0M698.3 956h0M608 1018.8h0M765.8 963.4h0M684.9 646.4h0M777.6 957.1h0M686.4 963.6h0M753.6 1100.5h0M857.4 660.9h0M804 906.9h0M563.9 709.8h0M767.4 963h0M612.1 1017.6h0M577.6 763.6h0M651.1 1046.4h0M823.1 721.8h0M705.4 854.2h0M831.8 971.7h0M709.9 696.1h0M670.9 596.3h0M679.5 1032.2h0M666.2 1063.6h0M704 870.2h0M708.5 986.4h0M627 850h0M859.6 679.5h0M709.1 970.1h0M738.2 718.9h0M675.3 913.3h0M634.6 825h0M677.3 591.7h0M542.1 931.4h0M811.6 1106.4h0M659.1 771.4h0M756.4 1016h0M612.9 730.8h0M799.4 764.5h0M772.6 632.4h0M791.5 677.8h0M745 773h0M612 840.5h0M757.9 963.3h0M559.6 887.3h0M679.4 1133.5h0M648.7 605.5h0M664.2 874.1h0M537.8 977.7h0M858.3 725h0M679 684.2h0M604.5 764h0M798.8 695.8h0M587.8 894.5h0M549.3 970.3h0M883.2 818.6h0M731.3 1051.4h0M590.1 805h0M724.3 1065.1h0M783.3 761.6h0M594 947.1h0M732.1 732.7h0M675.1 689h0M708.6 1059.8h0M692.3 1105.4h0M735.9 678.1h0M700.2 670.3h0M754.2 591.2h0M669.4 648.3h0M700.6 1064.6h0M846.5 758.8h0M615.5 1111h0M778.5 1160.9h0M639.8 606.8h0M769.3 1106.5h0M733.1 1102.3h0M591.6 883.6h0M717.4 1004.4h0M826.6 746.2h0M756.9 758.6h0M786.3 723.3h0M590 746.6h0M613.6 1106.2h0M811.2 815.3h0M802.9 868.5h0M661.5 1137.5h0M779.9 708.6h0M720.7 996.8h0M621.7 1155.8h0M804.3 777.1h0M615 913.3h0M643.4 637.7h0M717.2 1126.4h0M781.2 889.3h0M844.5 634.8h0M624.6 763.4h0M691.7 627.7h0M690.1 607.1h0M727 853h0M710 1184.3h0M842.4 856h0M568.6 922.8h0M591.5 905h0M692.5 613.9h0M800.5 1015.6h0M593.3 636.9h0M799.9 894.3h0M575.4 855.8h0M828.7 564.6h0M688.9 663.5h0M800.2 848.7h0M703.9 742.3h0M873.4 915h0M772 790.5h0M841.3 561.8h0M562.6 839.9h0M772.2 963.9h0M704.4 786.3h0M678.3 1093.1h0M697.6 1071.7h0M575.9 1119.6h0M837.1 887.3h0M747.3 1065.9h0M614 941.3h0M806.4 852.6h0M801.2 1098.8h0M773.8 803.4h0M692.2 778.3h0M671.8 949.5h0M840.4 693.3h0M610.3 1028.5h0M716.1 1100.4h0M759.6 735.5h0M601.6 1045.1h0M682.9 579.6h0M806 1039.2h0M624.1 843.5h0M845.6 800.3h0M792.8 1178.6h0M681.9 873.6h0M757.4 751.5h0M855.4 753.7h0M821.4 651.6h0M675.8 600.6h0M710.8 733.2h0M587.4 979.3h0M597.7 804.4h0M693.1 932.9h0M645.7 1073.4h0M800.2 700.9h0M749.9 938.1h0M707.1 667.1h0M617.7 1117.2h0M724.2 519.7h0M616.6 1210.1h0M624 782h0M577.2 724.2h0M625.1 1138.2h0M778.8 701.8h0M809.2 683h0M706.8 863.4h0M616 945.2h0M535.6 1008.4h0M545.4 1036.4h0M688 645h0M850.3 948.3h0M623.4 932.8h0M599.5 1030.6h0M582.2 955.5h0M840.2 1069.3h0M881.8 804h0M797.1 951.4h0M691.4 1097.8h0M611.7 1038.8h0M734.4 1162.2h0M810.6 816.4h0M862.7 1002h0M774.8 742.9h0M858.2 931.9h0M690 603.6h0M755.3 1010.7h0M621.5 1033h0M816.8 984.5h0M624.6 1096.7h0M626.2 1074.3h0M746.6 1160.5h0M806.7 777.4h0M635.4 744h0M861.4 993h0M857.7 913.8h0M853.9 831.3h0M575.7 889.1h0M740 1009.4h0M874.1 876.4h0M722.3 969.4h0M675.4 1196.9h0M610 784.6h0M667.8 772.7h0M701.4 1285.8h0M720.9 1063.6h0M590.4 1024.1h0M738.5 1087.1h0M573.7 1060.2h0M802.9 1026.8h0M752.2 961h0M835.9 815.9h0M793.5 946.2h0M596.6 608h0M700.2 655.1h0M655.9 743.6h0M767.2 981.3h0M834.6 688.4h0M848.3 924.9h0M560.2 1169.8h0M565.4 952.5h0M680.5 1011.6h0M671.7 964.4h0M556.3 767.9h0M573.3 1178.8h0M608.2 944.9h0M722.6 683.4h0M698.7 1073h0M633.3 1081.1h0M736.2 622.6h0M796.3 886.6h0M676.8 790.5h0M801.4 723.3h0M588.5 1060.8h0M871.4 730.2h0M680.2 654.6h0M657 870.5h0M625.1 654.6h0M667.6 929.2h0M764.1 664h0M571.2 853.3h0M545 1004.1h0M658.1 623.1h0M763 1041.6h0M564.9 906.2h0M760.8 701.3h0M808.7 847.1h0M881.2 841h0M702.3 731.3h0M671.2 577.3h0M642.7 1158.5h0M658.5 935.4h0M776.2 831.9h0M665.4 944.9h0M720.1 1063.7h0M823.1 1018.1h0M538.8 987.3h0M842.5 617.3h0M533.7 902.6h0M677.4 1286h0M759.9 801.6h0M867 798.4h0M565.2 776.7h0M616.9 790.6h0M674.8 1118.6h0M772.3 981.3h0M639.8 986h0M848.9 792.5h0M654.8 1062.7h0M604 828.1h0M672.4 632.4h0M753.3 529h0M737.5 711.2h0M838 716.5h0M610 813.8h0M818.9 1019.5h0M643 760.6h0M811.9 944.1h0M601.2 1075.9h0M733.5 934.7h0M641.9 1045.2h0M617.6 857h0M595.5 951.8h0M832.5 760.9h0M707.1 1084.9h0M665.4 757.9h0M841.6 734.3h0M805.9 1055.6h0M671.3 1007.9h0M560.3 1048.7h0M672.9 1019h0M664.3 735.7h0M668.1 1045.8h0M794 897.2h0M802.1 867.8h0M812.3 925.8h0M601.7 574.8h0M603.3 1118.6h0M735.1 745.8h0M811.2 988.9h0M555.9 1019.8h0M834 1013.7h0M682.5 688.1h0M843.7 604.3h0M624.7 834.3h0M626.3 526.5h0M710.7 1167.3h0M813.3 1127.6h0M862.3 898.8h0M703.1 1188.4h0M670.1 1081h0M843.9 801.2h0M827.6 656h0M779 1159.8h0M720.2 1062.9h0M656.5 683.6h0M577.1 1113.9h0M719.5 611.3h0M787.9 1027.8h0M773.5 1019.6h0M795.7 813.9h0M682.9 591.1h0M588.8 871.1h0M800.9 981.5h0M567 1062.8h0M665.6 913.3h0M605.9 1087.3h0M673.5 1029.1h0M608 1082.9h0M812.5 869.5h0M695.8 1234.1h0M650.1 765.9h0M850.1 832.4h0M647 1226.7h0M589.4 935.6h0M828.4 685.7h0M609.7 794.5h0M785.4 967.1h0M547.4 907.5h0M827.1 1096.3h0M876.9 828.3h0M709.2 1118.6h0M637.7 1114.4h0M785.4 568.2h0M813.4 642.5h0M795.2 731.5h0M845 648.1h0M832.1 851.1h0M800.8 926.5h0M762.3 1192.3h0M784.6 1031.3h0M659.9 1154.8h0M564.1 746.3h0M574.8 789.9h0M590.8 865.8h0M575.7 1012.1h0M583.7 867h0M589.2 890.8h0M831.4 751.5h0M622.4 1211.6h0M797.3 581.1h0M840.7 1023.5h0M607.3 979.7h0M802.3 819.4h0M809.8 1187.8h0M778.7 1144.3h0M596.5 956.6h0M581.7 813.9h0M863.7 727.4h0M678.4 672.6h0M654.6 1086.5h0M641.4 691.8h0M751.2 1151.7h0M746 694.4h0M739.4 698.1h0M877.3 719.1h0M660.6 663.6h0M629.6 1209.8h0M750.2 712.9h0M625.8 1112.2h0M752.8 1027.6h0M650.7 1060.6h0M673.9 1051.9h0M593.2 976h0M847.5 863.4h0M670.7 647h0M618 980h0M730.3 593.7h0M853.1 1057h0M750.6 1114.9h0M842.3 844.3h0M533.4 996.6h0M794.1 1019.5h0M757.6 1033.6h0M799.4 1033.8h0M815.9 925.9h0M611.7 1007.7h0M727.7 891.3h0M533.4 949.8h0M570.6 877.1h0M718.9 937.6h0M848.1 938.3h0M894.4 712.9h0M616.5 765.6h0M794.3 886.8h0M729.2 1088.6h0M843.3 1102.9h0M756.1 561.2h0M856.4 957h0M610.8 863.8h0M692.9 641.3h0M878.1 919.8h0M835.5 612.4h0M740.4 615.8h0M667 1056.4h0M832.2 729.4h0M528 969.7h0M693.3 1145.6h0M874.9 654.6h0M650.4 1220.7h0M578.3 1064.5h0M765.1 1079.4h0M756.8 634.1h0M824.9 948.5h0M678.9 857.1h0M583.7 851h0M793.4 690.4h0M637.8 1138.4h0M823 679.9h0M788.3 650.8h0M608.5 955.1h0M836.3 832h0M697 679.6h0M766.6 1106.4h0M801.4 859.9h0M676.3 891.5h0M647.6 1129.2h0M820 751.5h0M759 1226.3h0M753.1 1207.6h0M845.9 678.7h0M785.3 968.9h0M793.4 1157.4h0M720.8 509.7h0M894.6 536.7h0M598.6 973.3h0M570.5 943.5h0M837.9 706.6h0M669.1 931.8h0M617.9 696h0M758.6 1200h0M589 919.1h0M610.3 728.5h0M698 1152.7h0M649.6 856.3h0M795.7 760.2h0M629 684.3h0M616.9 792h0M761.8 689h0M878.6 732.6h0M663.9 920.8h0M706.6 962.4h0M893.8 767.3h0M818.8 662.4h0M587.4 933.9h0M745.5 645h0M577.3 793h0M593.1 1141.2h0M618.3 1042.8h0M746.1 1177.1h0M824.4 772.8h0M782.2 1081.3h0M645.4 849.8h0M728.3 675.7h0M661.9 626h0M747.5 1192.8h0M803 773.9h0M622 1081.7h0M658.9 683h0M666.6 1021.1h0M673.7 1265h0M705.4 645.5h0M691 859.3h0M858.7 914.4h0M578.6 1003.1h0M772.1 559.5h0M792.4 537.9h0M633.8 793.7h0M606.7 865.5h0M774.3 694.5h0M763.4 1028.9h0M610 675.9h0M742 601.4h0M738.5 696.6h0M586.6 731.7h0M826.2 837.2h0M619.6 746.1h0M820.3 651.9h0M581.1 833h0M728.3 691.3h0M846.7 983.2h0M714 1166.2h0M614.9 602h0M622.8 909.4h0M672.7 862.3h0M836.8 1018.6h0M800.6 590.7h0M706.1 623.1h0M859.5 873.1h0M844.9 803.5h0M617 1169.9h0M858.6 1007.9h0M664.2 1092.7h0M570.9 885.2h0M766.5 1104.8h0M797.2 781.4h0M790.6 625.6h0M754.5 1081.1h0M819.1 733.2h0M818.6 1075.9h0M855.4 986.1h0M794.7 742.4h0M867.3 783.5h0M688.5 603.2h0M713 519h0M587.7 910.5h0M840.6 778h0M668 1172.7h0M892.3 800h0M672.1 615.1h0M715.5 658.2h0M869.1 863.1h0M601.3 815h0M597.2 1117.8h0M631.7 692.3h0M758.9 585.3h0M821.1 859.2h0M827.3 906.3h0M713.1 976.1h0M796.7 1137.1h0M584.5 898.4h0M823.3 599.5h0M844.9 888.3h0M598.3 791.1h0M715.4 1219.3h0M668.4 1092.8h0M828.3 707.1h0M775.2 686.6h0M754.2 1140h0M583.8 1085.1h0M620.5 980.4h0M625.7 1065.4h0M579.2 970.2h0M683.9 615.7h0M786.1 719.2h0M592.6 854.9h0M646.5 1092.8h0M576.6 991.7h0M787 691.7h0M766.6 686.4h0M700.2 647h0M749.3 670.5h0M707.2 494.2h0M816.5 834h0M583.9 1007.1h0M631 720.9h0M863.7 951h0M731 1292.9h0M629 903.5h0M685 999.8h0M763.3 1149.3h0M601.5 965.8h0M629.1 967.3h0M727.7 1258.8h0M754 703.8h0M777.2 973.5h0M839.4 1027.1h0M643.8 847h0M760.3 1109.7h0M671.6 1180.3h0M556.3 1013.7h0M658.9 696.1h0M862.7 998.7h0M664.4 1171.2h0M806.1 859h0M801.4 1063.5h0M598.1 721.9h0M767.5 1100.8h0M715.6 1183.9h0M682.3 1244.5h0M867 554.4h0M848.7 784.5h0M738.6 1082.8h0M719.8 1168.3h0M748.7 624.5h0M580.8 1033.9h0M765.6 1137.4h0M641.1 1158.5h0M639.6 715.2h0M877.3 881.9h0M677.5 936.2h0M889.5 907.7h0M671.2 1106.7h0M843.8 905.5h0M854.2 786.3h0M603.6 972.4h0M804.1 841h0M651.5 697.4h0M847.5 941.5h0M700.4 1069.1h0M876.7 731.9h0M566.4 1071.7h0M632.8 569.3h0M605.9 1054.8h0M814.3 977.9h0M613.4 1178h0M670.5 1162.7h0M864.4 792.2h0M666.6 1184.2h0M566.2 1035h0M786 1071.3h0M687.2 927.3h0M628.4 734h0M577.1 1092.2h0M806.8 739.6h0M715.5 701.5h0M728.6 566h0M677.3 1096h0M693.8 1175.4h0M644.4 1177.5h0M587.7 784.9h0M726.4 740.2h0M841.4 679.2h0M723.3 1229h0M758.3 565.2h0M728.6 1187.2h0M678 936.5h0M648.5 1104.2h0M604 793.1h0M660.7 730.5h0M610 1090.5h0M863.8 888h0M701 682.1h0M565.9 1014.8h0M856.1 771.9h0M757.9 1122.5h0M781.9 1107.7h0M851.6 1016h0M535.7 977.3h0M650.1 1111h0M810.1 707.5h0M848.4 838.4h0M652.3 1147.9h0M763.7 1103.6h0M638.8 589.5h0M847.3 861h0M713.9 1198.7h0M759.8 1155.7h0M595.5 793.7h0M808.9 723h0M825.8 833.1h0M748.6 1118.8h0M608.2 797.5h0M564.2 1086.2h0M734.8 892.7h0M696 582.9h0M611.2 739.4h0M620.6 711.2h0M604.3 770h0M811.9 918.1h0M824.5 1083h0M772.9 667.2h0M777.2 677.8h0M554.8 1121h0M568.2 944.1h0M622.7 1180.5h0M711.4 587h0M520 957.8h0M830.2 709.6h0M600.2 614.1h0M818.5 703.7h0M606.7 1060.6h0M709.5 635.7h0M801.1 1164.8h0M579.8 878h0M653.1 1105.2h0M704 823.9h0M861.8 908.5h0M560.2 1152.1h0M663.3 1128.7h0M758.6 625.4h0M735.8 908.6h0M794.3 665.4h0M616.8 609.6h0M838.3 775.3h0M635 914.2h0M527.4 999.8h0M734.5 619.5h0M666.5 1227.9h0M575 723.5h0M844.7 675.5h0M835.8 702.5h0M784.9 1101.6h0M584.5 1054.2h0M820.1 1160.6h0M839.1 973.3h0M804.4 1028.2h0M779.6 826.8h0M791.6 581.8h0M773.4 589.9h0M589.1 988.3h0M697.4 1165.1h0M672.9 638h0M739.9 656.5h0M857.7 941h0M758.9 947.5h0M706.4 1186.7h0M835.3 506h0M878.8 752.5h0M829.6 1000.2h0M838.5 1121.8h0M833.9 697.6h0M623.8 1239.1h0M636.9 723.9h0M767.4 642.3h0M796.9 517.4h0M627.6 615.6h0M644.3 833h0M852 916.7h0M706.3 963.4h0M657.4 639.6h0M837.6 970.3h0M840.6 867.5h0M583.9 933.6h0M677.9 1169.5h0M701.7 1145h0M626.7 802.2h0M626.3 673.3h0M595.4 753.8h0M701.4 861.3h0M760.5 696.4h0M564.8 1123.2h0M600.1 932.9h0M815.9 582.6h0M843.2 934.4h0M821.8 978.4h0M696.7 1220.1h0M705.6 666.5h0M816.4 974.1h0M606.5 1170.5h0M798.2 1073.4h0M783.5 1021.3h0M739.4 693.4h0M580.5 663.7h0M866.6 943.1h0M765.6 550.9h0M766.5 651.1h0M853.6 1066.1h0M562.3 923.1h0M729.8 1178.3h0M800.6 586.2h0M528.9 892.1h0M856.6 818.9h0M725.8 708.5h0M851.3 676.1h0M748.3 612.1h0M611 1068h0M575.8 1033.6h0M638.9 839.7h0M793.7 715.6h0M810.9 1041.3h0M609.2 1145.5h0M802.6 836.1h0M660.8 618.8h0M835.1 712.7h0M700.7 1253.5h0M729.7 1183.3h0M811.8 577.8h0M652.3 650.2h0M831.2 673.8h0M877.9 871.4h0M612.7 673.9h0M581.8 685.2h0M565.6 992.9h0M531.6 967.4h0M852 604h0M584.8 1075.5h0M827.7 1050.7h0M818.4 733.7h0M533.1 1014h0M699.5 644.6h0M848.1 943h0M823.7 787.3h0M859.8 578h0M818.8 630.9h0M761.3 612.7h0M545.5 913.6h0M818.1 1136h0M612.7 968.8h0M565.8 989h0M651 1147.5h0M650.9 1146.4h0M674.9 649.6h0M583.5 1011.4h0M549.8 1122.5h0M839.7 903.9h0M698.1 967.7h0M868.5 659.2h0M534.6 1034.9h0M748.4 660.8h0M735.6 895.1h0M629.9 766.4h0M517 954.9h0M832.7 1037.6h0M890.7 916.3h0M890.1 857.1h0M800.8 629.1h0M819.9 1036.6h0M818.8 738.3h0M772.5 499.7h0M811.9 1090.8h0M578.8 966h0M861.6 861.1h0M572.7 701h0M815.3 671.9h0M720.2 654.2h0M863 891.1h0M552.5 911.9h0M558.6 1010.2h0M613 699.7h0M654.5 728.6h0M822.7 567.3h0M694.2 671.4h0M661.9 1160.5h0M763.3 566.6h0M877.6 664.9h0M691.5 557.7h0M615.4 1087.1h0M849.6 1073.3h0M681.9 1000.2h0M774.5 733.2h0M620.1 970.1h0M633.7 1109.5h0M565.3 784.5h0M671.4 1038.7h0M672.4 684.4h0M594 813.1h0M812.1 770.9h0M809.3 1187.1h0M841 1107.2h0M659.1 1112.1h0M794 1005.6h0M711.9 1127.2h0M812 825.7h0M686.7 1181.4h0M619 735.3h0M637.2 898.6h0M653 753.3h0M566.3 943.6h0M736.5 618.5h0M673 573.1h0M624.9 940.4h0M825.4 718.6h0M592.4 881.2h0M578.2 745.8h0M836 733.2h0M566.6 930.8h0M715.5 1159.4h0M737.9 1094h0M838 862.9h0M538.9 993.3h0M655.8 1123.3h0M791.6 577.6h0M805.5 614.8h0M673.6 588.2h0M692.6 579h0M888.2 924.3h0M571.7 748.7h0M770.2 621.3h0M601 729.1h0M740.6 1016.7h0M847 665.2h0M708.6 628.9h0M558.5 1056.2h0M552.6 1075.4h0M768.6 1090h0M673 931h0M847.7 589h0M771.6 632.4h0M708.7 1179.2h0M636.7 773.1h0M889.5 873.2h0M834 1094.1h0M649.1 754.8h0M575.3 741.6h0M771.7 549.2h0M771.3 678.1h0M561.1 872.9h0M625.1 782h0M858.7 960.1h0M623.6 787.9h0M536.7 881h0M601.7 936.8h0M843.3 724.7h0M754.6 651.6h0M573.9 833h0M656 1083.7h0M753.7 675.2h0M649.9 1155.2h0M582.7 1039h0M645.5 738.3h0M589.4 995.7h0M839.4 924.1h0M612.4 1097.7h0M582.9 1125.8h0M551.9 1056.1h0M708.4 564.4h0M571.9 1050.7h0M589.6 798.9h0M570.9 818.1h0M823.8 626h0M614.6 999.9h0M833.2 1043h0M714.7 1127.2h0M596.3 1075h0M550.6 1010.6h0M787.8 1047.6h0M633.1 1197.7h0M670.7 1080.4h0M813.3 1126.6h0M647.1 1144.7h0M881.3 593.2h0M641.9 706.8h0M845.5 990.1h0M787.3 712h0M656.9 664.8h0M815.2 792.3h0M801.9 972.8h0M796.1 501.2h0M572.3 803.7h0M820.3 1073h0M809.4 1018h0M660.3 1024.8h0M790.8 1016.6h0M723.9 674.1h0M668.5 1142.7h0M581.9 730.5h0M810.2 672.4h0M675.9 673.5h0M548 807h0M720.2 586h0M598.2 809.5h0M869.1 1012.9h0M621.5 1177.7h0M567 962.7h0M722.1 1132h0M765.3 717.1h0M764.3 1102.8h0M570.5 1158.4h0M797.5 668.8h0M713.1 1147.7h0M886.4 788.6h0M854.5 888.4h0M648.7 1218.6h0M870.4 926.4h0M641.6 636.9h0M815.6 1082.5h0M740.6 625.9h0M825.6 1183.8h0M815.8 825.6h0M664.2 645.8h0M882.1 927.9h0M664.9 684.6h0M822.5 610.1h0M600.3 924.9h0M653.6 695.8h0M882.8 585.8h0M868.7 695.7h0M728 632.7h0M541.7 1123h0M626.2 571.4h0M546 1045.6h0M586.4 676.1h0M634 1118.3h0M622.6 1090h0M635.8 862.9h0M836.7 526h0M831.1 744h0M581.2 950h0M632.9 1156h0M844.4 980.8h0M697.9 1132h0M785 1037.2h0M816.6 711.7h0M639.2 730h0M846.2 957.4h0M614.5 621.9h0M859 732.6h0M607.2 685.4h0M540.5 1043.8h0M792 1081.6h0M599.1 1099.9h0M649.4 1150.1h0M772.8 1132h0M579.4 789.5h0M604.3 870.9h0M758.9 1115.7h0M649.3 1095.8h0M641.5 1127.1h0M869.2 787.2h0M669.2 679.5h0M583.4 1166.4h0M538.6 949.2h0M801.8 1069.2h0M694.6 631.1h0M802.3 796.1h0M696.9 780.1h0M751.2 1069.2h0M757 679h0M567.3 883h0M802.7 1073h0M772.9 665.7h0M815.3 797.9h0M796.9 1042.2h0M802.4 614.8h0M603.7 744.9h0M675.6 1275.6h0M642.6 658.9h0M876.4 965h0M886 626.1h0M718.5 748.6h0M826.5 741.9h0M718.6 532.7h0M797 790.8h0M790 556h0M806.5 1170.8h0M580 881.1h0M733 1177.4h0M597.8 804h0M532.5 897.6h0M753.4 619.7h0M818.2 551.5h0M830 1002.3h0M576.7 712.1h0M745.1 1221.5h0M570.6 1126.6h0M670.5 1237.3h0M823 1203.4h0M756.8 654.6h0M836.5 860.7h0M572 775.8h0M881 838h0M620.1 778h0M847 626.8h0M865.5 556.4h0M607.1 744.6h0M715.6 610.9h0M857 624h0M837.9 900.8h0M848.5 735.8h0M682 1139.4h0M750.9 1209h0M641.7 1198.6h0M557.5 875.8h0M838.1 894.1h0M674.4 1132.8h0M520.7 911.3h0M738.6 1239.7h0M824 939.9h0M791.9 1085.2h0M651.9 598.3h0M868.6 908.8h0M553.1 972.1h0M616.5 1143h0M523 933.4h0M772.9 704.7h0M835.2 854.5h0M603.1 658.9h0M562.4 1136.4h0M883.5 817.6h0M559.9 964.2h0M586.8 1049.6h0M749 1010.1h0M865.6 952h0M887.5 633.5h0M823 862.6h0M682.6 1260.1h0M823.6 1071.1h0M597.3 601.7h0M635.7 602.7h0M746.7 631.3h0M556.4 847.2h0M656.2 1225.7h0M684.3 1168.5h0M694.2 599.8h0M538.8 967h0M644.1 684.7h0M652.5 1200.4h0M833.7 1024.9h0M816.9 748.1h0M723.4 639.9h0M673.5 508h0M590.4 658.2h0M576.3 1037.5h0M699.2 592.2h0M588.3 945.6h0M783.4 523.7h0M601.6 877.6h0M617.2 580.8h0M879.6 750h0M539.6 1096.3h0M751.3 697.9h0M768.3 1108.8h0M583.2 943.1h0M854.8 965.6h0M616.5 583.8h0M632.8 778.6h0M694.3 1230.3h0M666.4 1127.3h0M566.3 819.8h0M580.6 1049.6h0M791.1 1120.7h0M558.2 902.2h0M846.8 967.2h0M636 1169.1h0M588.2 616.3h0M624 1129.4h0M862.4 784.2h0M681.8 1215.9h0M749.7 693.3h0M546.3 826.9h0M720.5 1274.9h0M753.7 557.1h0M747.6 1083.7h0M837.9 1058.9h0M823.2 1023.5h0M752.9 538.9h0M817 932.6h0M692.2 1158.2h0M800.3 602.7h0M629.6 1252.4h0M648.5 1151.1h0M708.8 644.8h0M740.4 684h0M851.1 778.4h0M837.3 745.1h0M762.6 711.9h0M730 643.7h0M591.8 838h0M749.8 1090.5h0M877 934.6h0M593.9 961.4h0M704.6 706.7h0M844 625.1h0M649.3 685.8h0M620.1 1146.5h0M617.5 1118h0M745 1118.1h0M765.9 584.5h0M704.2 617.6h0M588.3 591.6h0M870.5 988.3h0M733.4 603.1h0M608.9 813.7h0M870 877.3h0M669.3 664.2h0M626.3 572.1h0M702.9 1080.1h0M669.5 592.1h0M890.4 577.5h0M564.6 1074.6h0M551.4 1017.3h0M558.7 827.3h0M818.3 1052.8h0M603.1 686.6h0M660.4 678.6h0M545.9 965h0M860 986.4h0M608.3 705.6h0M790.1 609.1h0M784.6 534.2h0M694.5 1246.8h0M614.3 1140h0M629.7 513.2h0M602.5 649.6h0M747.6 572.6h0M807.2 586.6h0M764.7 1112.2h0M735.2 1131.3h0M730.1 564.3h0M902.5 583.8h0M593.7 875.1h0M649.4 619.5h0M602.3 684.5h0M676.6 1078h0M857.2 982.2h0M617.5 1128.5h0M773.8 652.9h0M662.8 1191.3h0M891.6 768.5h0M604 1213.4h0M561.7 970.7h0M859.1 763.7h0M590.2 1135.5h0M570.4 1011.4h0M608.8 1058.4h0M554.5 943.7h0M651.9 752.3h0M782.6 1195.6h0M632.5 1175.9h0M804.9 517h0M738.1 536.6h0M537.4 875.7h0M670.3 661.7h0M697.3 591.7h0M625.2 562.9h0M592.7 1183.1h0M618.1 692.2h0M826.3 1090.1h0M859.5 870.1h0M760.8 1178.3h0M564.8 802.3h0M720.2 505.1h0M622.2 789.1h0M658.3 667.2h0M735.5 1156.1h0M849 712.9h0M616.9 703.5h0M633.2 1190.8h0M853.2 997.7h0M862.9 956h0M806.1 643.6h0M845.3 564.2h0M631.3 661.1h0M770 1115.5h0M774.2 501h0M677.7 1225.2h0M725.8 1196.3h0M799.1 647.3h0M805.4 1052h0M739.6 1202.8h0M760.4 670.5h0M581.8 698.1h0M534.9 1036.5h0M602.5 806.5h0M817.7 801.5h0M593 995.8h0M559.9 1127.2h0M865.9 742.6h0M664 1159.8h0M761.9 1093.7h0M861.6 742.4h0M742.9 1191.6h0M744 1107.4h0M825.1 794.7h0M539.4 991.8h0M844.5 1002.5h0M640.2 1133.5h0M894.6 624.6h0M876.7 700.6h0M842.5 1058.1h0M734.5 618.9h0M881.3 611.2h0M757.8 684.5h0M738.3 524.3h0M813.7 1144h0M675.8 1158.1h0M849.2 947.7h0M646.5 1214.1h0M656.3 579.9h0M597.4 1065.6h0M731 556.7h0M714 1193h0M750.8 1252h0M817.8 1061.2h0M705.1 1141.8h0M577.3 1091.2h0M763.6 1077.1h0M605.6 1118.5h0M824.6 1089.8h0M696.9 613.5h0M667.4 1237.5h0M569.2 1008.4h0M888.8 905.4h0M826.1 1117.8h0M833 1079.1h0M808.7 1160.9h0M870.5 1000.7h0M673.3 618.5h0M575.3 927.6h0M751.5 1220h0M736.4 613.8h0M848.9 724.9h0M608.8 683.3h0M824.3 824.2h0M646.1 634.8h0M580.5 752.9h0M862.6 761.4h0M758 576h0M599.9 730.1h0M804.4 662.8h0M629.7 769.4h0M580.1 1112.7h0M870 968h0M781.1 587h0M837.1 540.2h0M881.5 575.2h0M869.1 840.1h0M865.7 666.9h0M847.2 908.6h0M802 1101.3h0M893.4 606.9h0M828.1 1140.4h0M666.4 1252.5h0M871.5 940.2h0M776.7 593.6h0M741.3 584.8h0M552.1 842h0M725.6 1143.4h0M765.2 1160.7h0M679.2 1145.9h0M821.9 1137.3h0M689 542.2h0M845.5 968.6h0M592.4 741.4h0M689.7 624.3h0M744.5 548.3h0M846.7 940.5h0M579.1 773.6h0M774.6 1167.6h0M847.2 892.7h0M881 686.3h0M758.6 589.8h0M571.1 1008.2h0M528.4 980.1h0M874.7 845.5h0M831.2 1003h0M814 1085.2h0M651.3 585.8h0M738.3 1124.3h0M832.1 1115.8h0M882 647.7h0M841.2 1097.4h0M781.1 1125.4h0M759.4 665.9h0M546.9 995.2h0M578.1 681.7h0M646.8 653.6h0M552 963.5h0M775.9 1206.9h0M583.5 742.7h0M799.2 721h0M818.4 579.7h0M874.2 534h0M747 1136h0M702.3 585.4h0M831 1095.1h0M546 920.5h0M554 773.7h0M893.3 905.3h0M564 806.8h0M586.7 1077.1h0M775.8 523.7h0M542.3 954.3h0M833 641.7h0M717 1171.6h0M721.7 1042.5h0M549.6 871.7h0M829.8 943.8h0M619.9 1206.5h0M819 1106.6h0M893.9 909h0M856.4 615h0M571.5 934.9h0M844.2 913.9h0M796.8 572.7h0M794.8 1080.9h0M584.5 722.4h0M855 899.4h0M600.7 609.4h0M612 754.8h0M556 1144.8h0M892 811h0M529 853.8h0M715.9 1175.6h0M670.7 615.8h0M867.7 776.9h0M801.3 715.2h0M551.3 1064.6h0M797.9 575.5h0M663 1166.7h0M611.9 590.1h0M565.3 1110.4h0M696.2 1223h0M621.5 1161.4h0M569.4 1041.4h0M750.5 606.9h0M546.7 1114.4h0M861.5 1037.6h0M618.7 1062.2h0M838.6 1014.1h0M768.3 1206h0M884.3 762.9h0M603.3 648.5h0M851.7 843.5h0M887.4 778.9h0M607.6 604.6h0M763.9 580.7h0M888.9 941.1h0M815.2 736.1h0M768.5 584.8h0M870 793.4h0M838.7 1054.7h0M638.8 748h0M800.3 1155.6h0M847.3 947.1h0M657.9 1208.4h0M713.9 596.4h0M831.2 953.2h0M766.5 1176.2h0M814.5 621.8h0M851.3 847.6h0M694.2 1238.2h0M785 588.3h0M877.2 999.2h0M808.6 720.3h0M597.7 718.2h0M808.3 659.8h0M853 975.4h0M575.9 847.8h0M887 820.4h0M647.7 667.7h0M734.2 645.7h0M643.1 1192.5h0M596.1 1117.9h0M720.2 623.3h0M743.7 1220.1h0M733.8 686.4h0M723.5 1144.2h0M678.4 1273.1h0M876 794.4h0M696 506.9h0M871.3 744.3h0M586.6 1107.2h0M828.4 978.8h0M562.6 870.5h0M703.4 1198.8h0M793.3 521.3h0M808.6 1088.5h0M662.9 676h0M887.3 885.9h0M628.9 659h0M878.3 698h0M833.6 1056.5h0M741.7 1180.7h0M558.3 781h0M705.7 1135.3h0M868.1 800.9h0M811 1125h0M682.5 563h0M590.9 1145.1h0M582.1 1115.9h0M620 592.5h0M525.1 816.5h0M866.6 858.8h0M874.9 790.3h0M887 625.9h0M721 605.6h0M581.9 686.4h0M600.2 706h0M842.3 696.7h0M594.2 1120.7h0M603.7 1163.8h0M876.9 779h0M570.2 719.1h0M879.5 660h0M706.6 613.4h0M599.4 582.6h0M733.2 560.8h0M691.4 1161.2h0M854.4 856.6h0M556.6 858.2h0M758 1179.6h0M788 668.1h0M593.2 671h0M560.9 795h0M599.8 716.2h0M758 1156h0M869.4 811.5h0M755 1156.4h0M732.6 628.8h0M827.6 1056.2h0M759.7 1079.8h0M694.9 1197.8h0M810.4 1083.5h0M592.8 665.9h0M758.9 600.8h0M831 636.7h0M540.4 1024.6h0M883.3 942.4h0M846.2 595h0M627.2 628.5h0M777.1 656.1h0M834.2 822.3h0M885.3 955.6h0M551.1 701.2h0M553.9 820.2h0M853.3 660.3h0M734.9 584.9h0M750.3 1181.5h0M769.4 594.5h0M829.8 1036.1h0M608.7 1117.9h0M559.5 934.5h0M768.9 1217.3h0M910.8 556.9h0M731.7 1192.9h0M525.5 1014.7h0M606.4 700.7h0M562.3 1099.4h0M797.4 1187.2h0M921.4 562.2h0M777.5 503.5h0M865.8 965.4h0M887.3 776.4h0M665.2 1160.1h0M806.2 592.8h0M570.6 976.5h0M868.2 724.2h0M590.5 692.9h0M735.3 1165.4h0M768.7 574.4h0M838.7 1047.4h0M852.8 1044.1h0M768.8 522.4h0M880.6 959h0M750 517.8h0M551.6 1066.8h0M768.4 607.8h0M609.4 1127.4h0M538.6 841h0M811 557.7h0M683 641.4h0M855.4 1015.1h0M809.5 608.7h0M528.5 992.5h0M587.5 1097h0M877.6 857.1h0M701.2 1258.3h0M841.6 1035h0M581.4 1072.9h0M876.3 884h0M577.4 1166.9h0M690.2 1177.2h0M597.3 1155.8h0M631.9 1232.2h0M541.8 987.2h0M780 534.9h0M804.1 644.3h0M717.4 1132.3h0M740.7 1253h0M546.4 941.8h0M521.3 1072.9h0M562 994.4h0M721.5 642.8h0M687.1 1083.4h0M844.7 1023h0M811.4 593.7h0M785.8 578.6h0M603.1 649.7h0M843.6 568.8h0M566.6 1000.7h0M572.7 1143.2h0M574 1135.6h0M694.8 1278.9h0M815.4 648.7h0M557.4 1036.1h0M640.6 1256.9h0M902.7 698.1h0M640.4 635h0M599.7 671.9h0M537.3 1094.8h0M532.6 1087.9h0M735.1 637.2h0M867 896h0M561.8 750.2h0M732.1 602.5h0M833.5 518.2h0M761 518.9h0M539.3 915h0M880.4 588.3h0M568.7 855.3h0M596.3 636.7h0M605.3 689.8h0M536.3 867.1h0M615.9 707.2h0M548.7 1124.4h0M717.6 1137.8h0M537.2 824.1h0M826.8 1118.9h0M746.9 602.9h0M546.4 935.3h0M882.6 837.2h0M747.1 1151.6h0M616.4 556.1h0M841.7 942.2h0M881.3 606.9h0M747.4 1143.9h0M614 1248.3h0M881.1 499.7h0M774.4 1111.3h0M781.1 670.9h0M742.9 1259.5h0M562.9 953.2h0M592.2 750.5h0M830.7 1104.8h0M705.9 1250.2h0M868.9 960.1h0M611.8 1131.1h0M613 727.9h0M832.5 1068.8h0M801.8 1201.6h0M789.3 1159h0M873.6 970.8h0M843.7 695.7h0M680.1 1083.5h0M614.2 689.4h0M800.4 516.2h0M586.2 778.7h0M800 1085.2h0M583.7 721.8h0M845.1 1050.5h0M898 602.2h0M611.9 707.9h0M674.9 633.9h0M876 901.8h0M875.1 1016.2h0M884.2 888.3h0M884.8 616.2h0M596.7 625.9h0M639.7 671.9h0M608.2 650.6h0M552.1 975.3h0M546.9 1092.5h0M785.9 602.8h0M671.5 1223.3h0M831.9 960.4h0M876.2 863h0M885.5 727.8h0M778.2 541.9h0M715.3 503.1h0M657 567.2h0M782.2 604.4h0M689.2 1148.8h0M887.4 828.3h0M801.9 653.7h0M830.2 979.9h0M755.7 1161.1h0M529.5 908.7h0M840.5 952.7h0M818.1 634.5h0M690.3 1244.3h0M655.5 609.5h0M861.1 766.7h0M767.7 541.5h0M589.2 857h0M729.7 575.5h0M698.5 1197.9h0M690.6 630.2h0M714.9 555.2h0M887.9 861.4h0M562.6 865.5h0M762 1122.6h0M834.5 1090.6h0M618.6 669.4h0M725.2 1203.1h0M545.8 982.7h0M591.9 1105.3h0M823.6 636h0M768.7 1202.5h0M784.1 1199.4h0M550.9 863.6h0M547.7 1021.2h0M833.5 608.2h0M710.7 602.3h0M864.8 537.3h0M749.5 514.4h0M694.1 1282.1h0M686.8 528.3h0M858.7 640.9h0M649.6 740.7h0M823.3 1146.8h0M826.2 1144.9h0M549.3 809.7h0M812.9 538.4h0M859.5 1039.7h0M689 1149.2h0M775.4 665.2h0M688.5 1246.8h0M562.4 958.2h0M825.1 626.6h0M683.3 614.7h0M702.8 1280.5h0M695.6 1232.8h0M809.2 568.5h0M576.9 1109.7h0M749.7 589.9h0M647.5 1276.7h0M784.3 493.7h0M727.2 617.8h0M607.4 695.2h0M558.2 975.6h0M723.1 1163.1h0M825.9 610.3h0M900.5 678h0M622.2 565.9h0M855 632.7h0M643.6 603.5h0M534.6 1055.4h0M852 518.5h0M693.6 546.1h0M567 846.6h0M553.9 951.3h0M824.6 532.3h0M523.5 985.2h0M868.1 1012.1h0M726.9 588.4h0M826.1 543.1h0M841.5 601.2h0M847.7 634.6h0M634.9 1202.4h0M736 589.9h0M563.9 732.9h0M563.6 1082h0M847.8 640.7h0M611.9 1203.3h0M623.3 682.9h0M759.7 529.9h0M863.4 1068.3h0M631.4 1200h0M683.5 1197.5h0M889 898.2h0M751.6 585.5h0M740.6 582.9h0M879.1 962.8h0M717.1 563h0M540.6 1152.5h0M724.3 571.1h0M554.2 997.1h0M697.9 579.1h0M897.5 903.2h0M661.7 613.6h0M775 1124h0M811.8 1143.4h0M528.4 1059.1h0M876 890.3h0M536.6 915.8h0M540.3 863.3h0M821.1 1127.1h0M870.9 1028.4h0M530.5 927.4h0M679.2 1249.8h0M719.4 1220.6h0M805.4 1178.2h0M707.2 581.7h0M631.6 1222.1h0M535 1077.5h0M792.7 1107.9h0M664.9 1215.4h0M649.6 580.5h0M541 852.8h0M623.1 1145.2h0M671.2 537.4h0M613.5 1145.7h0M614 716.8h0M515.7 996.1h0M547.2 925.2h0M577 1098.6h0M702.7 1178.7h0M565.3 1118.9h0M563.1 1171.1h0M741.6 1210.6h0M744.4 531.6h0M523.6 933.7h0M530.3 945.8h0M686.9 636.1h0M596.6 698.7h0M579.3 785.7h0M857.4 612.4h0M876.8 502.3h0M866.6 979.3h0M696.7 1182.5h0M622.2 715.6h0M668.8 601.9h0M698.2 1217h0M883 712h0M581.1 1145.4h0M670.2 1239h0M754 1174.9h0M671.6 1149.1h0M856.4 1026h0M532.3 1042.8h0M669.3 574.1h0M723.5 1264.8h0M677 1208.4h0M699 1216.6h0M684.9 1190.6h0M849.3 513.2h0M541.5 1021.8h0M530.3 1023.8h0M890.5 612.9h0M900.8 926.9h0M646.8 601.4h0M780.1 520.4h0M783 654.4h0M884.2 655.1h0M808.4 1098.2h0M730.2 568.9h0M641 613.9h0M591.7 715h0M598.9 766h0M699.5 607.4h0M732.3 553.6h0M587.3 705.7h0M845.8 1008.5h0M873.7 1014.5h0M854.3 654.6h0M645 1211.4h0M801.2 1139h0M891.3 871.9h0M888.3 953.3h0M809.4 622.6h0M668.3 1265.1h0M531.1 1024.6h0M795 1212.7h0M688.7 1268.7h0M820.2 618.1h0M752.7 1210.6h0M868.7 771.2h0M838.7 615h0M862.3 848.8h0M649 1196.1h0M868.4 756.9h0M818.3 1105.5h0M829.2 617.8h0M692.7 673h0M677.3 621.3h0M708.3 1269.6h0M743.5 557.7h0M817.8 1093.8h0M571.8 675.5h0M826.5 650.8h0M675.5 1212.9h0M879.1 852.1h0M861.8 555.7h0M762.8 547.8h0M823.3 644.5h0M587.7 1146.1h0M846 587.5h0M745.1 513h0M752.9 542.6h0M652.1 1249.9h0M625.7 1193.5h0M712.6 1273.3h0M726.4 539.1h0M864.8 603.5h0M887.7 864.8h0M626.1 525.4h0M861.3 579.6h0M559.8 923.5h0M852.4 1054.8h0M551.7 840.7h0M878.4 643.6h0M792.9 1168.4h0M691.7 555.6h0M796.4 1139.4h0M622.9 538.9h0M852.2 525h0M741 596.3h0M881.3 721.1h0M698 625.7h0M567.2 985.6h0M819.9 536.8h0M611.1 1098.7h0M631.4 633.8h0M654.4 552.1h0M819.5 579.9h0M925.9 534.4h0M872.7 647.2h0M791.9 1093h0M721.6 610.5h0M530.9 947.2h0M881.8 973.8h0M674.4 549.4h0M884.8 490.4h0M885.6 674.4h0M745.2 516h0M604 719.9h0M701 1235.6h0M778.4 501.4h0M556.1 1030.7h0M726.2 557.3h0M789.8 503.6h0M842 635.9h0M787.7 1106.4h0M547.1 1061.1h0M811.5 1186.5h0M538.2 1018.9h0M590.9 583.1h0M762.8 1175.9h0M860.6 708.6h0M702.7 634.5h0M635.6 510.8h0M691.5 567.9h0M564.3 1104.6h0M880.2 940h0M879.3 940.4h0M708.7 552.7h0M806.7 598.8h0M555.6 787.6h0M596.2 689.5h0M524.1 978.8h0M587.6 775.1h0M624.7 536.2h0M567.7 828.6h0M523.8 937.5h0M540.7 1015.6h0M858 968.2h0M591.7 647.1h0M574.8 1137.1h0M576.3 1072.4h0M735.9 1136h0M797.3 585.9h0M776.9 618.4h0M869.7 952.2h0M619.9 641.5h0M594.9 1170.6h0M524.2 1027.7h0M658.9 1250.3h0M910.9 565.8h0M784.6 529.3h0M750.7 1227.6h0M593.3 1138.8h0M842.1 621.2h0M705.2 606.4h0M597.6 681h0M548.8 1145.8h0M780.6 1113.7h0M924.5 534.5h0M578.8 664.7h0M666.7 1205.9h0M883.1 1013.5h0M640.7 1154.7h0M600.2 642.9h0M617.6 1211.8h0M883.2 524h0M631.5 1187.8h0M779.3 615.9h0M825.3 917.9h0M689.2 1291.6h0M546.8 989.7h0M872.8 610.6h0M564.4 742.6h0M726.1 1210.4h0M624.4 1255.2h0M784.8 1170.2h0M560.4 1136.5h0M850.4 1131.9h0M848.4 1076h0M865.1 614.7h0M852.1 561.8h0M606.3 1116.9h0M708.1 538.8h0M613.3 1258.2h0M863.4 1017.7h0M884.6 761.9h0M550.9 821h0M582.9 1181.6h0M823.8 1148.8h0M651.8 552.6h0M686.4 524.5h0M766.8 1236.5h0M613.6 1162.2h0M820.2 529.4h0M788 552.9h0M627.2 1247h0M614.6 585.4h0M641.9 1215.3h0M748.7 847.5h0M845.1 554.9h0M888.8 759.8h0M882.1 634.8h0M846.1 1074.8h0M657.3 601.1h0M612.6 1108.2h0M591.1 1073.1h0M811.9 564.8h0M561 1057.4h0M562.7 1113.4h0M746.4 545h0M624.4 632.5h0M682.9 543.1h0M872.7 951.8h0M858.6 715h0M648.9 620.5h0M565.1 978.5h0M832 1062.5h0M662.7 569.4h0M886.3 663.4h0M729.7 1234.3h0M885.2 839.4h0M725.9 1237.9h0M902.4 544.9h0M729.3 1209.5h0M619 1218.9h0M595.3 1166.1h0M640.6 569.6h0M694 1192.8h0M592.9 1114.2h0M727.4 599.2h0M779.9 1196.9h0M629.4 580.2h0M623 581.4h0M680.8 604h0M549.7 984.7h0M647.4 1244.8h0M719.4 528h0M558 1146.3h0M870 858.6h0M671.5 563.7h0M798.5 545.7h0M665.6 1202h0M655.2 539.3h0M718.4 570.1h0M536.3 1050.1h0M745.9 1161.5h0M900.8 590.8h0M687 1248.8h0M881.6 720.3h0M724.6 515.5h0M648.2 1161h0M878.1 675.5h0M870.3 707.5h0M865.2 588.1h0M549 778.9h0M533.7 878.1h0M760.8 1226.6h0M884.7 871.6h0M732 603.5h0M593.9 1141.7h0M663.6 518.6h0M868.3 646.3h0M871.7 720.8h0M743.7 1244.3h0M811.6 541.8h0M707 549.8h0M666.8 524h0M546.7 1101.7h0M862.5 1038.7h0M580.9 1153.2h0M895.6 614.5h0M650.2 505.8h0M606.4 619.1h0M776 580.6h0M751.1 1160.5h0M606.6 1183.5h0M523.7 1051.5h0M875.7 540.2h0M551.8 793.8h0M531.8 1063.8h0M637.6 1230h0M842.2 574.6h0M693.8 1207.4h0M537.9 1095.5h0M893.9 895.8h0M802.9 1199.8h0M568.8 736h0M536.9 917.1h0M646.7 561.9h0M592.1 647.9h0M717.8 1239.6h0M573.7 1072h0M670.7 563.1h0M771.9 1176.7h0M748.6 1225.9h0M820.6 1173.4h0M638.3 633.5h0M904.2 601h0M645.1 551.6h0M836 675.1h0M596.5 1110.2h0M519.7 946.4h0M600.2 1123.2h0M627 1221.1h0M527.3 846.2h0M561.5 992h0M786.8 1189.3h0M579.8 1170.3h0M638.3 572.6h0M711.8 541.2h0M808.2 1175.8h0M539 838.6h0M886.7 556.6h0M704 576h0M866.6 615.9h0M528.7 902.9h0M702 1213h0M599.9 1186.5h0M649.6 629.3h0M644.7 563.3h0M708.3 566.5h0M578.6 1086h0M862.8 516.5h0M848.6 696.5h0M860 576.7h0M892 935.9h0M750.4 1176.1h0M891.2 707.7h0M575.3 1023.3h0M788.2 531.6h0M644.3 1249.8h0M684.9 1282.3h0M850.7 642.7h0M856.2 560.4h0M802.7 553.4h0M907.2 907.7h0M533.4 957h0M721.2 575.1h0M644.6 1165.8h0M555.6 1089.4h0M771.5 541.5h0M852.7 592.1h0M888.2 821.6h0M701.2 1206.6h0M793.5 1194.1h0M679 528.1h0M836.4 579.1h0M702.4 575.2h0M633 632.1h0M676 632.8h0M711.8 547.5h0M603.9 1188.5h0M643.8 1188h0M727.3 1221h0M805.3 1115.1h0M779.4 1169.9h0M678.8 1164.7h0M750.4 1196.4h0M895.4 942.6h0M610.8 1112.6h0M543 1154.2h0M568.7 717.8h0M662.7 523.2h0M555.4 930.3h0M649.6 562.2h0M701.3 527.9h0M881.4 683h0M809 1177.3h0M745.1 557.3h0M712.4 535.6h0M885.7 541.5h0M697.6 516.4h0M713.1 1251.6h0M705.5 1210.7h0M591.8 1136h0M515 945.6h0M684.4 1156.6h0M617.5 1156.8h0M635 585.7h0M734.2 1223.9h0M882.3 958.6h0M650.3 1187.7h0M876.3 987.3h0M707.7 533.5h0M861.9 717.2h0M510.8 987.1h0M867.8 641.3h0M680.3 624.5h0M601.9 1161.6h0M557.4 987.1h0M833.9 593.9h0M787 593.1h0M720 1204.9h0M536.5 1093.9h0M832.4 506.7h0M729.7 546.5h0M609.6 652.3h0M719.9 1291.5h0M524.8 1033.5h0M776.4 566.6h0M835 1076.6h0M662.2 583.5h0M799 553.4h0M741.9 578.1h0M558.6 1177.3h0M896.2 667.8h0M796.6 1138.3h0M596.3 1126.9h0M527.7 963h0M866.5 623.7h0M878.2 696.7h0M623 537.8h0M711 1288.9h0M763 541.4h0M713.2 1291.9h0M785.9 1135h0M737.5 559.1h0M546.6 817.1h0M565.8 727.2h0M561.9 1099.8h0M613.5 1186.7h0M900.1 924.1h0M795.6 1116.6h0M691.2 594.8h0M890.6 858.5h0M893.4 579.1h0M610.2 575.5h0M584 1183.7h0M769.2 1169.6h0M563.5 1071.8h0M539.9 1110.6h0M843.3 533.1h0M539.9 1164h0M889.7 839.9h0"/>
<path fill="none" stroke="#000" stroke-width="15" stroke-linecap="round" d="M896.7 210h0M907.3 211.7h0M846.7 254.3h0M901 264h0M917.3 270.7h0M949.7 277.3h0M1049.3 273.3h0M845.3 294h0M772.3 301.7h0M786 322.3h0M757.3 324.3h0M744 336.7h0M956.7 362.7h0M976 367.3h0M1001.7 371.7h0M1029.3 379h0M1056.3 364.7h0M1065.7 383.7h0M1109.7 360h0M1127 423.7h0M1070.3 454h0M1109.7 475.3h0M1020.7 487.3h0M970.3 494h0M956.7 510.4h0M958.9 522.4h0M991 510.7h0M977.3 522.7h0M987.7 534.3h0M999.3 536.7h0M1012.3 530.7h0M1020.7 531.7h0M1102.7 555h0M975 575.7h0M987.7 572.3h0M987.7 596.7h0M1036.7 593.3h0M984 609.3h0M996.7 612.3h0M1014.3 614h0M1034.3 609.3h0M1105 607.3h0M998.3 628.3h0M1024.3 626h0M970.7 632.7h0M984.3 640h0M956 651.7h0M981 670.7h0M1063.3 656.7h0M996 687.3h0M1075 685h0M1114.3 691.7h0M971.7 696.7h0M1004 702.7h0M983.3 715.7h0M1140.7 725h0M999 735h0M974 744h0M964.3 757.3h0M969.3 757.3h0M987.7 762.3h0M1071 750.7h0M1113.3 762.7h0M956.7 780h0M962.3 788.3h0M990.7 810h0M1026.1 814.4h0M985.3 822.7h0M973.8 843.5h0M960 851.7h0M1031 847.3h0M1109.3 849.3h0M1024 877.7h0M960 896.3h0M1016.7 903.7h0M1061 912.7h0M955.7 912.3h0M956.7 920h0M978.3 926.7h0M1075 946h0M1079.3 960h0M1019 969.3h0M1026 969.3h0M1028.3 995.3h0M1044.3 1002.3h0M981 1028h0M1050.7 1030.7h0M1101.3 1028h0M1026 1066h0M1122.3 1082.3h0M1012.3 1106h0M1055 1153.3h0M1700.7 605h0M1284.3 626h0M1449.3 656.7h0M1575.7 659.3h0M1214 757.7h0M1310 757.3h0M1363.3 764.7h0M1315 797.7h0M1296 814h0M1301 828.7h0M1292.7 899h0M1655.7 873h0M1703.3 922.3h0M1347.3 962.3h0M1224.3 993.3h0M1338 1094h0M1349.3 529.3h0M1245.3 564.7h0M221.8 960.2h0"/>
<path fill="none" stroke="#FF0000" stroke-width="15" stroke-linecap="round" d="M975 96.7h0M1005.7 129.3h0M1036 174h0M996.7 197.7h0M990.7 225.7h0M1065.7 223.3h0M1175.6 240h0M1116.7 275.3h0M1178.3 282.7h0M1136 298.7h0M1032.7 313h0M1045 313h0"/>
<path fill="none" stroke="#A0A0A0" stroke-width="15" stroke-linecap="round" d="M961.1 649.6h0M945.6 780.4h0M953.3 780.4h0M987.8 778.4h0M974.9 838.2h0"/>
<path fill="none" stroke="#000" stroke-width="4.4" stroke-linecap="round" d="M872.7 136.7L892.3 191.7M781 156.7L836.7 239.3M664 212.3L771.7 309.3M1083.3 216.7L1156 186.7M1195 237.3L1280 221M1135.6 275.6L1212.2 277.3M1197.1 282.2L1391.1 280M1155 301.7L1335 336.7M679 378.3L728.3 346.7M681 436L830 308.3M915.7 289.3L908.3 361M845 422.7L940 371M765 492.3L960 376.7M966.7 419L991 387.3M951.7 478.3L1017.7 394M1074.3 360L1163.3 333.3M1127.7 363.3L1273.3 392.7M1084.3 385.7L1124.3 389.3M1126.7 483.3L1169.3 503.3M951 550L960 526.7M1131 768.3L1191.7 790M1046.7 837.7L1080 818.3M723.3 834.3L941.7 850.7M877.7 835.7L955 840.7M785 892.3L938.3 915M848.3 948.3L938.3 924.3M847.7 1004.3L960 936.7M872.3 1062.3L962.7 1034M1012.3 1056L1024 1014M1062.3 1010L1156 1050M1113.3 1043.3L1157.7 1104.3M1130 1100L1157.7 1159M1093.3 947.7L1230 959.3M1259.3 669L1222.3 740.7M1465 666.7L1506.7 693.3M1381.7 764L1560 752.3M1333.3 795L1376.7 788.3M1242.3 997.7L1304.3 1015"/>
<g class="l">
<text x="829.8" y="71.7">FBXO11</text>
<text x="997.6" y="85">PLAA</text>
<text x="803.9" y="129.6">ATP5C1</text>
<text x="1028" y="142.7">RPTOR</text>
<text x="676.1" y="167.7">IBA57</text>
<text x="877.6" y="185.7">ATP5B</text>
<text x="1035.9" y="198.6">NSD1</text>
<text x="1163" y="197.9">ENY2</text>
<text x="535.9" y="225">HSPH1</text>
<text x="723.2" y="224">YARS2</text>
<text x="826.7" y="242.6">TUFM</text>
<text x="1088.1" y="254.4">HCCS</text>
<text x="964.3" y="266.3">DOHH</text>
<text x="651.8" y="280.7">DPAGT1</text>
<text x="826" y="322">MBTPS2</text>
<text x="610.3" y="336.7">USP16</text>
<text x="942.1" y="349.6">CASP9</text>
<text x="1042.2" y="344">CYCS</text>
<text x="1168.6" y="345.7">UBQLN1</text>
<text x="785.7" y="377">THG1L</text>
<text x="523.6" y="394.4">C16orf70</text>
<text x="1130.6" y="401.7">MRP63</text>
<text x="703.5" y="437.1">PRKRIR</text>
<text x="867.3" y="436.7">BAP1</text>
<text x="981.1" y="433">VDAC2</text>
<text x="508.2" y="451.5">CCDC101</text>
<text x="1146.9" y="461">MLST8</text>
<text x="621" y="505.4">RICTOR</text>
<text x="785.3" y="492.3">SUPV3L1</text>
<text x="1041.6" y="521.9">MTOR</text>
<text x="1176.8" y="519">ATIC</text>
<text x="800.1" y="569.4">MRPS34</text>
<text x="1022" y="578">FAF2</text>
<text x="1136.8" y="611.4">PRUNE</text>
<text x="1286.5" y="234">TP53</text>
<text x="1218.9" y="291">MARCH5</text>
<text x="1396.5" y="292.3">BAK1</text>
<text x="1340.6" y="349.6">APAF1</text>
<text x="1279.2" y="405.7">MAPKAP1</text>
<text x="1310" y="508.3">MTHFD2</text>
<text x="1642" y="582.3">NUDT2</text>
<text x="1293.7" y="604.3">MTHFD1L</text>
<text x="826.6" y="679">ZFP91</text>
<text x="994.3" y="668.1">MATR3</text>
<text x="1144.5" y="678.7">FDX1</text>
<text x="868.2" y="735.7">ELF2</text>
<text x="1002.7" y="730.4">BPTF</text>
<text x="1162.4" y="734.7">HEATR3</text>
<text x="817.9" y="790.7">BDP1</text>
<text x="995.2" y="788.5">CNBP</text>
<text x="942" y="830.4">H2AFV</text>
<text x="1086.8" y="828.3">C7orf26</text>
<text x="582.2" y="846.7">ZC3H15</text>
<text x="743.7" y="846.7">NDFIP2</text>
<text x="917.3" y="887.7">NCKAP1</text>
<text x="1129.9" y="893.2">LIAS</text>
<text x="663.5" y="904.8">S1PR1</text>
<text x="807.3" y="904.2">DDX42</text>
<text x="955.4" y="948.6">AGTPBP1</text>
<text x="1111.1" y="947.6">CDK6</text>
<text x="766.1" y="961.1">CRK</text>
<text x="726.7" y="1017.8">USP10</text>
<text x="871" y="1007.1">SLC2A1</text>
<text x="1066" y="1006">RPL11</text>
<text x="772.6" y="1075.9">SLTM</text>
<text x="895.9" y="1074.2">OGDH</text>
<text x="1034.3" y="1074.7">DRG1</text>
<text x="1163.1" y="1062.4">DCAF7</text>
<text x="1034.5" y="1132.1">MAEA</text>
<text x="892.5" y="1149.8">STIP1</text>
<text x="1165" y="1119.2">UBE2H</text>
<text x="1164.9" y="1176.1">MLX</text>
<text x="1023.3" y="1200.7">YPEL5</text>
<text x="1596.8" y="652.3">IMPDH2</text>
<text x="1265.8" y="679">SLC25A51</text>
<text x="1514" y="709">SLC25A32</text>
<text x="1331.2" y="743.7">SLC29A1</text>
<text x="1567.1" y="765.4">SHMT2</text>
<text x="1199.7" y="803.8">GUK1</text>
<text x="1383.5" y="801.4">SLC19A1</text>
<text x="1339.9" y="857.7">YLPM1</text>
<text x="1587.9" y="851.3">AK2</text>
<text x="1238" y="877.1">DLD</text>
<text x="1340.6" y="916.7">MTR</text>
<text x="1235.7" y="971.7">DLST</text>
<text x="1368.9" y="972.7">MMACHC</text>
<text x="1688.2" y="968.8">ADK</text>
<text x="1311.5" y="1029">MTRR</text>
<text x="1323" y="1140.7">ADSS</text>
<text x="208.8" y="939.8">UCK2</text>
</g>
<path fill="none" stroke="#333" stroke-width="4.4" d="M136.5 409.6H148M136.5 879.8H148M136.5 1350.3H148M717.5 1648V1659.5M1297.3 1648V1659.5"/>
<g class="a" text-anchor="end">
<text x="127.1" y="431.4">2</text>
<text x="127.1" y="901.4">0</text>
<text x="127.1" y="1371.9">-2</text>
</g>
<g class="a" text-anchor="middle">
<text x="717.5" y="1711">0</text>
<text x="1297.3" y="1711">5</text>
</g>
<text class="t" text-anchor="middle" x="962" y="1766.5">AICAR 240uM exp211 CRANKS score</text>
<text class="t" text-anchor="middle" transform="translate(55.2,835.1) rotate(-90)" textLength="790.8" lengthAdjust="spacingAndGlyphs">CI-1040 9.5uM exp472 CRANKS score</text>
</svg>
</body></html>
